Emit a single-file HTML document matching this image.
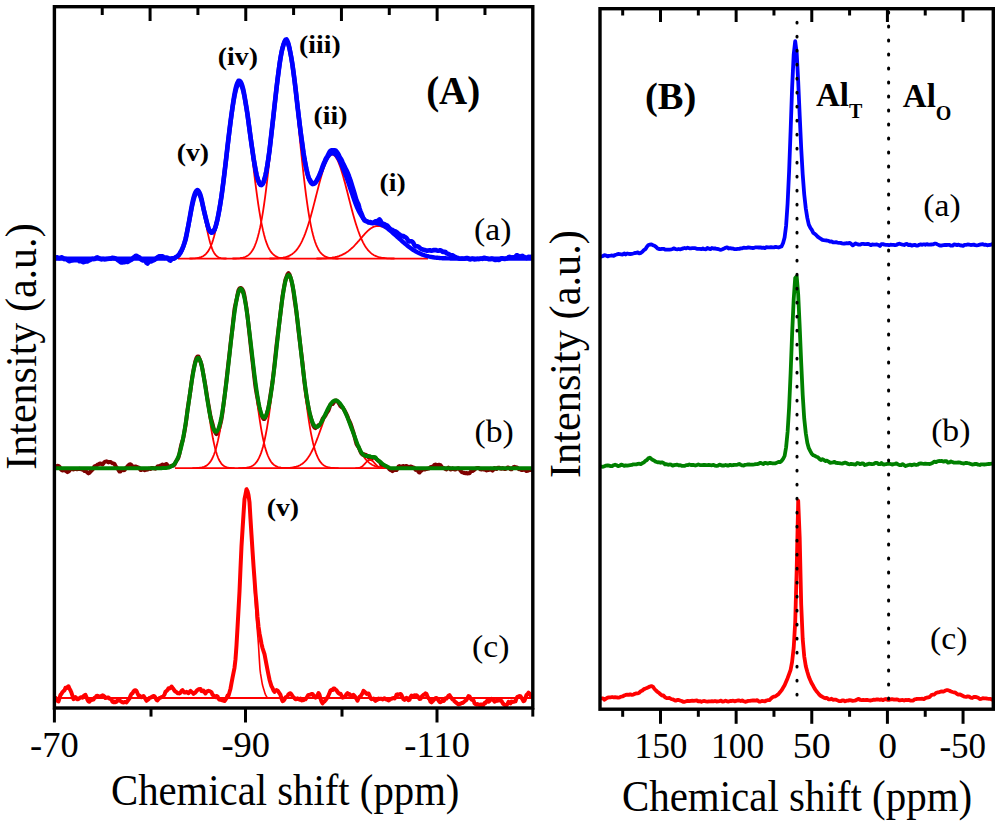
<!DOCTYPE html>
<html><head><meta charset="utf-8"><style>html,body{margin:0;padding:0;background:#fff;width:1000px;height:823px;overflow:hidden}svg{display:block}text{font-family:"Liberation Serif",serif}</style></head><body>
<svg width="1000" height="823" viewBox="0 0 1000 823">
<rect width="1000" height="823" fill="#fff"/>
<path d="M178.0,256.0 L179.0,255.0 L180.0,253.7 L181.0,252.0 L182.0,249.9 L183.0,247.4 L184.0,244.3 L185.0,240.8 L186.0,236.7 L187.0,232.3 L188.0,227.4 L189.0,222.2 L190.0,217.0 L191.0,211.8 L192.0,206.8 L193.0,202.4 L194.0,198.5 L195.0,195.6 L196.0,193.6 L197.0,192.7 L198.0,192.9 L199.0,194.2 L200.0,196.6 L201.0,200.0 L202.0,204.1 L203.0,208.8 L204.0,213.9 L205.0,219.1 L206.0,224.3 L207.0,229.4 L208.0,234.1 L209.0,238.4 L210.0,242.3 L211.0,245.6 L212.0,248.4 L213.0,250.8 L214.0,252.7 L215.0,254.2 L216.0,255.4 L217.0,256.3 L218.0,257.0 L219.0,257.5 L220.0,257.8 L221.0,258.1 L222.0,258.3 L223.0,258.4 L224.0,258.5 L225.0,258.5 L226.0,258.5" fill="none" stroke="#ff0000" stroke-width="1.8" stroke-linejoin="round" stroke-linecap="round" />
<path d="M190.0,258.5 L191.0,258.5 L192.0,258.5 L193.0,258.4 L194.0,258.4 L195.0,258.3 L196.0,258.2 L197.0,258.1 L198.0,257.9 L199.0,257.7 L200.0,257.4 L201.0,257.1 L202.0,256.7 L203.0,256.2 L204.0,255.6 L205.0,254.8 L206.0,253.8 L207.0,252.7 L208.0,251.4 L209.0,249.8 L210.0,247.9 L211.0,245.7 L212.0,243.1 L213.0,240.1 L214.0,236.8 L215.0,232.9 L216.0,228.7 L217.0,223.9 L218.0,218.6 L219.0,212.8 L220.0,206.5 L221.0,199.7 L222.0,192.5 L223.0,184.8 L224.0,176.9 L225.0,168.6 L226.0,160.1 L227.0,151.6 L228.0,143.1 L229.0,134.7 L230.0,126.5 L231.0,118.7 L232.0,111.4 L233.0,104.8 L234.0,98.9 L235.0,93.8 L236.0,89.7 L237.0,86.6 L238.0,84.6 L239.0,83.7 L240.0,83.9 L241.0,85.2 L242.0,87.7 L243.0,91.2 L244.0,95.7 L245.0,101.1 L246.0,107.4 L247.0,114.3 L248.0,121.8 L249.0,129.7 L250.0,138.0 L251.0,146.5 L252.0,155.0 L253.0,163.5 L254.0,171.9 L255.0,180.1 L256.0,187.9 L257.0,195.4 L258.0,202.5 L259.0,209.1 L260.0,215.2 L261.0,220.8 L262.0,225.8 L263.0,230.4 L264.0,234.5 L265.0,238.2 L266.0,241.4 L267.0,244.2 L268.0,246.6 L269.0,248.7 L270.0,250.4 L271.0,251.9 L272.0,253.2 L273.0,254.2 L274.0,255.1 L275.0,255.8 L276.0,256.4 L277.0,256.9 L278.0,257.3 L279.0,257.6 L280.0,257.8 L281.0,258.0 L282.0,258.1 L283.0,258.2 L284.0,258.3 L285.0,258.4 L286.0,258.5 L287.0,258.5 L288.0,258.5 L289.0,258.5" fill="none" stroke="#ff0000" stroke-width="1.8" stroke-linejoin="round" stroke-linecap="round" />
<path d="M233.0,258.5 L234.0,258.5 L235.0,258.5 L236.0,258.5 L237.0,258.4 L238.0,258.3 L239.0,258.3 L240.0,258.2 L241.0,258.0 L242.0,257.8 L243.0,257.6 L244.0,257.3 L245.0,257.0 L246.0,256.6 L247.0,256.0 L248.0,255.4 L249.0,254.6 L250.0,253.6 L251.0,252.5 L252.0,251.1 L253.0,249.5 L254.0,247.6 L255.0,245.3 L256.0,242.7 L257.0,239.7 L258.0,236.3 L259.0,232.4 L260.0,228.0 L261.0,223.1 L262.0,217.6 L263.0,211.6 L264.0,205.0 L265.0,197.8 L266.0,190.1 L267.0,181.8 L268.0,173.1 L269.0,164.0 L270.0,154.4 L271.0,144.6 L272.0,134.6 L273.0,124.6 L274.0,114.5 L275.0,104.7 L276.0,95.1 L277.0,85.9 L278.0,77.4 L279.0,69.5 L280.0,62.4 L281.0,56.3 L282.0,51.2 L283.0,47.2 L284.0,44.4 L285.0,42.9 L286.0,42.7 L287.0,43.7 L288.0,46.0 L289.0,49.4 L290.0,54.1 L291.0,59.8 L292.0,66.5 L293.0,74.1 L294.0,82.4 L295.0,91.4 L296.0,100.8 L297.0,110.6 L298.0,120.5 L299.0,130.6 L300.0,140.6 L301.0,150.5 L302.0,160.2 L303.0,169.5 L304.0,178.4 L305.0,186.8 L306.0,194.8 L307.0,202.2 L308.0,209.0 L309.0,215.3 L310.0,221.0 L311.0,226.1 L312.0,230.7 L313.0,234.8 L314.0,238.4 L315.0,241.6 L316.0,244.3 L317.0,246.7 L318.0,248.7 L319.0,250.5 L320.0,252.0 L321.0,253.2 L322.0,254.2 L323.0,255.1 L324.0,255.8 L325.0,256.4 L326.0,256.8 L327.0,257.2 L328.0,257.5 L329.0,257.8 L330.0,258.0 L331.0,258.1 L332.0,258.2 L333.0,258.3 L334.0,258.4 L335.0,258.4 L336.0,258.5 L337.0,258.5 L338.0,258.5" fill="none" stroke="#ff0000" stroke-width="1.8" stroke-linejoin="round" stroke-linecap="round" />
<path d="M270.0,258.5 L271.0,258.5 L272.0,258.5 L273.0,258.5 L274.0,258.5 L275.0,258.4 L276.0,258.4 L277.0,258.3 L278.0,258.3 L279.0,258.2 L280.0,258.1 L281.0,258.0 L282.0,257.8 L283.0,257.7 L284.0,257.5 L285.0,257.3 L286.0,257.0 L287.0,256.7 L288.0,256.3 L289.0,255.9 L290.0,255.4 L291.0,254.8 L292.0,254.2 L293.0,253.4 L294.0,252.6 L295.0,251.6 L296.0,250.6 L297.0,249.4 L298.0,248.0 L299.0,246.5 L300.0,244.9 L301.0,243.1 L302.0,241.1 L303.0,238.9 L304.0,236.6 L305.0,234.1 L306.0,231.4 L307.0,228.5 L308.0,225.5 L309.0,222.3 L310.0,218.9 L311.0,215.4 L312.0,211.7 L313.0,208.0 L314.0,204.1 L315.0,200.2 L316.0,196.3 L317.0,192.4 L318.0,188.5 L319.0,184.6 L320.0,180.8 L321.0,177.2 L322.0,173.7 L323.0,170.4 L324.0,167.4 L325.0,164.6 L326.0,162.1 L327.0,159.9 L328.0,158.1 L329.0,156.7 L330.0,155.6 L331.0,154.9 L332.0,154.6 L333.0,154.7 L334.0,155.3 L335.0,156.2 L336.0,157.5 L337.0,159.2 L338.0,161.2 L339.0,163.6 L340.0,166.3 L341.0,169.2 L342.0,172.4 L343.0,175.8 L344.0,179.4 L345.0,183.1 L346.0,186.9 L347.0,190.8 L348.0,194.7 L349.0,198.7 L350.0,202.6 L351.0,206.5 L352.0,210.2 L353.0,213.9 L354.0,217.5 L355.0,220.9 L356.0,224.2 L357.0,227.3 L358.0,230.3 L359.0,233.0 L360.0,235.6 L361.0,238.0 L362.0,240.2 L363.0,242.3 L364.0,244.2 L365.0,245.9 L366.0,247.4 L367.0,248.8 L368.0,250.1 L369.0,251.2 L370.0,252.2 L371.0,253.1 L372.0,253.9 L373.0,254.6 L374.0,255.2 L375.0,255.7 L376.0,256.1 L377.0,256.5 L378.0,256.9 L379.0,257.2 L380.0,257.4 L381.0,257.6 L382.0,257.8 L383.0,257.9 L384.0,258.0 L385.0,258.2 L386.0,258.2 L387.0,258.3 L388.0,258.4 L389.0,258.4 L390.0,258.4 L391.0,258.5 L392.0,258.5 L393.0,258.5 L394.0,258.5" fill="none" stroke="#ff0000" stroke-width="1.8" stroke-linejoin="round" stroke-linecap="round" />
<path d="M317.0,258.5 L318.0,258.5 L319.0,258.5 L320.0,258.5 L321.0,258.5 L322.0,258.4 L323.0,258.4 L324.0,258.4 L325.0,258.3 L326.0,258.3 L327.0,258.2 L328.0,258.1 L329.0,258.0 L330.0,257.9 L331.0,257.8 L332.0,257.7 L333.0,257.5 L334.0,257.4 L335.0,257.2 L336.0,256.9 L337.0,256.7 L338.0,256.4 L339.0,256.1 L340.0,255.7 L341.0,255.3 L342.0,254.9 L343.0,254.4 L344.0,253.9 L345.0,253.4 L346.0,252.7 L347.0,252.1 L348.0,251.4 L349.0,250.6 L350.0,249.8 L351.0,248.9 L352.0,248.0 L353.0,247.1 L354.0,246.1 L355.0,245.0 L356.0,243.9 L357.0,242.8 L358.0,241.7 L359.0,240.6 L360.0,239.4 L361.0,238.2 L362.0,237.1 L363.0,235.9 L364.0,234.8 L365.0,233.7 L366.0,232.7 L367.0,231.7 L368.0,230.7 L369.0,229.8 L370.0,229.0 L371.0,228.3 L372.0,227.7 L373.0,227.1 L374.0,226.7 L375.0,226.4 L376.0,226.1 L377.0,226.0 L378.0,226.0 L379.0,226.1 L380.0,226.2 L381.0,226.4 L382.0,226.7 L383.0,227.0 L384.0,227.4 L385.0,227.8 L386.0,228.3 L387.0,228.9 L388.0,229.5 L389.0,230.2 L390.0,230.9 L391.0,231.6 L392.0,232.4 L393.0,233.2 L394.0,234.0 L395.0,234.8 L396.0,235.7 L397.0,236.6 L398.0,237.5 L399.0,238.4 L400.0,239.3 L401.0,240.2 L402.0,241.1 L403.0,241.9 L404.0,242.8 L405.0,243.7 L406.0,244.5 L407.0,245.3 L408.0,246.1 L409.0,246.9 L410.0,247.7 L411.0,248.4 L412.0,249.1 L413.0,249.7 L414.0,250.4 L415.0,251.0 L416.0,251.5 L417.0,252.1 L418.0,252.6 L419.0,253.1 L420.0,253.6 L421.0,254.0 L422.0,254.4 L423.0,254.8 L424.0,255.1 L425.0,255.4 L426.0,255.7 L427.0,256.0 L428.0,256.3" fill="none" stroke="#ff0000" stroke-width="1.8" stroke-linejoin="round" stroke-linecap="round" />
<line x1="178" y1="258.6" x2="428" y2="258.6" stroke="#ff0000" stroke-width="1.8"/>
<path d="M55.5,258.1 L56.5,257.4 L57.5,257.4 L58.5,258.0 L59.5,258.1 L60.5,257.8 L61.5,257.3 L62.5,257.6 L63.5,258.3 L64.5,259.1 L65.5,258.9 L66.5,259.4 L67.5,260.0 L68.5,260.7 L69.5,261.3 L70.5,260.8 L71.5,260.4 L72.5,260.5 L73.5,260.3 L74.5,260.0 L75.5,260.3 L76.5,260.3 L77.5,259.7 L78.5,260.3 L79.5,261.2 L80.5,261.2 L81.5,261.3 L82.5,261.9 L83.5,262.2 L84.5,261.8 L85.5,261.5 L86.5,261.5 L87.5,261.4 L88.5,260.6 L89.5,260.1 L90.5,259.9 L91.5,259.3 L92.5,258.9 L93.5,259.1 L94.5,259.0 L95.5,258.3 L96.5,257.6 L97.5,257.4 L98.5,258.0 L99.5,258.6 L100.5,259.0 L101.5,259.4 L102.5,259.1 L103.5,259.1 L104.5,259.4 L105.5,259.2 L106.5,259.1 L107.5,258.9 L108.5,258.7 L109.5,258.6 L110.5,258.8 L111.5,258.1 L112.5,257.8 L113.5,258.1 L114.5,258.1 L115.5,258.5 L116.5,259.0 L117.5,259.9 L118.5,260.6 L119.5,261.2 L120.5,262.1 L121.5,262.5 L122.5,262.4 L123.5,262.3 L124.5,262.2 L125.5,261.7 L126.5,261.7 L127.5,261.9 L128.5,261.4 L129.5,260.8 L130.5,260.0 L131.5,259.9 L132.5,258.6 L133.5,257.5 L134.5,256.9 L135.5,256.0 L136.5,255.7 L137.5,256.7 L138.5,256.9 L139.5,257.5 L140.5,259.0 L141.5,259.8 L142.5,260.4 L143.5,260.3 L144.5,260.1 L145.5,261.0 L146.5,262.9 L147.5,263.5 L148.5,262.3 L149.5,261.4 L150.5,261.4 L151.5,261.4 L152.5,260.8 L153.5,260.3 L154.5,259.9 L155.5,259.2 L156.5,258.0 L157.5,257.2 L158.5,256.6 L159.5,256.2 L160.5,256.3 L161.5,256.3 L162.5,256.2 L163.5,257.2 L164.5,257.9 L165.5,257.5 L166.5,257.6 L167.5,257.8 L168.5,259.0 L169.5,260.2 L170.5,260.6 L171.5,259.4 L172.5,258.3 L173.5,258.8 L174.5,258.4 L175.5,257.3 L176.5,256.8 L177.5,256.2 L178.5,255.2 L179.5,253.7 L180.5,252.0 L181.5,250.3 L182.5,248.2 L183.5,245.8 L184.5,242.9 L185.5,239.9 L186.5,235.4 L187.5,229.8 L188.5,224.6 L189.5,218.9 L190.5,213.1 L191.5,207.4 L192.5,202.3 L193.5,197.9 L194.5,194.6 L195.5,192.2 L196.5,190.6 L197.5,190.0 L198.5,190.9 L199.5,192.6 L200.5,195.1 L201.5,198.8 L202.5,203.6 L203.5,208.7 L204.5,212.9 L205.5,216.9 L206.5,220.8 L207.5,224.8 L208.5,228.5 L209.5,230.6 L210.5,231.3 L211.5,231.8 L212.5,231.3 L213.5,230.5 L214.5,229.6 L215.5,227.0 L216.5,223.2 L217.5,218.9 L218.5,214.0 L219.5,208.5 L220.5,202.7 L221.5,196.4 L222.5,188.9 L223.5,181.1 L224.5,172.8 L225.5,164.3 L226.5,155.4 L227.5,146.5 L228.5,138.1 L229.5,129.8 L230.5,121.8 L231.5,114.2 L232.5,107.0 L233.5,100.3 L234.5,94.1 L235.5,89.1 L236.5,85.3 L237.5,82.7 L238.5,80.8 L239.5,80.7 L240.5,81.6 L241.5,83.5 L242.5,86.5 L243.5,90.4 L244.5,95.8 L245.5,101.8 L246.5,107.9 L247.5,114.0 L248.5,121.6 L249.5,129.5 L250.5,137.0 L251.5,144.2 L252.5,150.8 L253.5,157.9 L254.5,163.9 L255.5,169.5 L256.5,174.8 L257.5,178.4 L258.5,181.0 L259.5,183.3 L260.5,184.6 L261.5,184.6 L262.5,183.9 L263.5,182.1 L264.5,179.1 L265.5,175.1 L266.5,170.4 L267.5,164.3 L268.5,157.9 L269.5,150.6 L270.5,141.8 L271.5,132.6 L272.5,123.9 L273.5,115.3 L274.5,106.1 L275.5,97.2 L276.5,88.3 L277.5,80.0 L278.5,72.4 L279.5,64.7 L280.5,58.1 L281.5,52.6 L282.5,48.3 L283.5,44.8 L284.5,41.8 L285.5,39.7 L286.5,39.4 L287.5,41.2 L288.5,43.9 L289.5,48.3 L290.5,53.7 L291.5,58.8 L292.5,65.0 L293.5,72.4 L294.5,80.0 L295.5,88.3 L296.5,97.5 L297.5,106.4 L298.5,114.7 L299.5,123.0 L300.5,131.0 L301.5,138.2 L302.5,145.4 L303.5,152.8 L304.5,159.0 L305.5,164.3 L306.5,169.2 L307.5,173.5 L308.5,177.2 L309.5,179.4 L310.5,180.9 L311.5,182.7 L312.5,183.9 L313.5,183.6 L314.5,182.8 L315.5,182.1 L316.5,180.9 L317.5,178.9 L318.5,177.2 L319.5,174.8 L320.5,172.4 L321.5,169.8 L322.5,166.6 L323.5,164.1 L324.5,162.0 L325.5,159.4 L326.5,157.5 L327.5,156.1 L328.5,154.0 L329.5,152.0 L330.5,150.8 L331.5,150.3 L332.5,150.2 L333.5,150.2 L334.5,150.2 L335.5,150.4 L336.5,151.5 L337.5,152.8 L338.5,154.4 L339.5,156.7 L340.5,158.4 L341.5,159.8 L342.5,162.2 L343.5,164.4 L344.5,166.3 L345.5,168.4 L346.5,170.4 L347.5,172.5 L348.5,174.8 L349.5,178.0 L350.5,180.4 L351.5,183.7 L352.5,186.9 L353.5,190.2 L354.5,193.5 L355.5,196.9 L356.5,200.3 L357.5,202.4 L358.5,204.5 L359.5,208.4 L360.5,211.3 L361.5,213.7 L362.5,216.2 L363.5,218.9 L364.5,220.5 L365.5,221.0 L366.5,221.3 L367.5,221.6 L368.5,222.5 L369.5,222.4 L370.5,222.0 L371.5,223.1 L372.5,223.3 L373.5,222.6 L374.5,221.9 L375.5,221.3 L376.5,221.2 L377.5,221.2 L378.5,220.2 L379.5,219.4 L380.5,220.7 L381.5,222.9 L382.5,223.4 L383.5,223.8 L384.5,224.2 L385.5,224.8 L386.5,225.1 L387.5,225.9 L388.5,227.0 L389.5,228.1 L390.5,229.1 L391.5,229.6 L392.5,230.0 L393.5,230.8 L394.5,231.4 L395.5,231.4 L396.5,232.1 L397.5,232.9 L398.5,233.8 L399.5,234.5 L400.5,235.5 L401.5,236.4 L402.5,235.9 L403.5,236.1 L404.5,236.9 L405.5,237.2 L406.5,238.0 L407.5,239.5 L408.5,241.2 L409.5,241.4 L410.5,241.3 L411.5,241.3 L412.5,241.9 L413.5,243.2 L414.5,245.3 L415.5,246.4 L416.5,246.2 L417.5,246.3 L418.5,246.8 L419.5,247.6 L420.5,248.5 L421.5,249.3 L422.5,249.4 L423.5,249.8 L424.5,250.0 L425.5,250.3 L426.5,250.6 L427.5,250.6 L428.5,250.5 L429.5,250.3 L430.5,250.4 L431.5,250.8 L432.5,250.6 L433.5,250.0 L434.5,250.1 L435.5,250.0 L436.5,250.3 L437.5,250.8 L438.5,250.8 L439.5,250.4 L440.5,250.3 L441.5,250.8 L442.5,251.7 L443.5,252.0 L444.5,251.8 L445.5,252.0 L446.5,253.3 L447.5,253.6 L448.5,254.0 L449.5,254.5 L450.5,255.1 L451.5,255.3 L452.5,255.3 L453.5,255.9 L454.5,256.5 L455.5,257.0 L456.5,257.6 L457.5,257.7 L458.5,258.3 L459.5,258.8 L460.5,258.8 L461.5,258.6 L462.5,258.5 L463.5,258.7 L464.5,258.8 L465.5,258.2 L466.5,258.0 L467.5,258.1 L468.5,258.6 L469.5,259.2 L470.5,259.4 L471.5,259.1 L472.5,258.6 L473.5,258.9 L474.5,259.4 L475.5,259.2 L476.5,259.2 L477.5,258.9 L478.5,259.1 L479.5,259.0 L480.5,258.5 L481.5,258.6 L482.5,258.9 L483.5,258.0 L484.5,257.7 L485.5,258.4 L486.5,258.2 L487.5,258.7 L488.5,259.1 L489.5,259.2 L490.5,259.3 L491.5,258.5 L492.5,258.7 L493.5,259.4 L494.5,259.7 L495.5,260.0 L496.5,259.6 L497.5,259.4 L498.5,260.0 L499.5,259.7 L500.5,258.9 L501.5,258.3 L502.5,258.2 L503.5,258.8 L504.5,259.0 L505.5,258.6 L506.5,258.5 L507.5,258.1 L508.5,257.2 L509.5,256.8 L510.5,257.2 L511.5,257.4 L512.5,257.4 L513.5,257.8 L514.5,257.3 L515.5,256.6 L516.5,255.3 L517.5,255.4 L518.5,256.0 L519.5,256.6 L520.5,257.0 L521.5,256.1 L522.5,255.9 L523.5,256.7 L524.5,257.0 L525.5,257.5 L526.5,258.1 L527.5,257.2 L528.5,256.7 L529.5,257.0 L530.5,257.1 L531.5,256.7" fill="none" stroke="#0000ff" stroke-width="4.6" stroke-linejoin="round" stroke-linecap="round" />
<path d="M55.5,258.6 L56.5,258.6 L57.5,258.6 L58.5,258.6 L59.5,258.6 L60.5,258.6 L61.5,258.6 L62.5,258.6 L63.5,258.6 L64.5,258.6 L65.5,258.6 L66.5,258.6 L67.5,258.6 L68.5,258.6 L69.5,258.6 L70.5,258.6 L71.5,258.6 L72.5,258.6 L73.5,258.6 L74.5,258.6 L75.5,258.6 L76.5,258.6 L77.5,258.6 L78.5,258.6 L79.5,258.6 L80.5,258.6 L81.5,258.6 L82.5,258.6 L83.5,258.6 L84.5,258.6 L85.5,258.6 L86.5,258.6 L87.5,258.6 L88.5,258.6 L89.5,258.6 L90.5,258.6 L91.5,258.6 L92.5,258.6 L93.5,258.6 L94.5,258.6 L95.5,258.6 L96.5,258.6 L97.5,258.6 L98.5,258.6 L99.5,258.6 L100.5,258.6 L101.5,258.6 L102.5,258.6 L103.5,258.6 L104.5,258.6 L105.5,258.6 L106.5,258.6 L107.5,258.6 L108.5,258.6 L109.5,258.6 L110.5,258.6 L111.5,258.6 L112.5,258.6 L113.5,258.6 L114.5,258.6 L115.5,258.6 L116.5,258.6 L117.5,258.6 L118.5,258.6 L119.5,258.6 L120.5,258.6 L121.5,258.6 L122.5,258.6 L123.5,258.6 L124.5,258.6 L125.5,258.6 L126.5,258.6 L127.5,258.6 L128.5,258.6 L129.5,258.6 L130.5,258.6 L131.5,258.6 L132.5,258.6 L133.5,258.6 L134.5,258.6 L135.5,258.6 L136.5,258.6 L137.5,258.6 L138.5,258.6 L139.5,258.6 L140.5,258.6 L141.5,258.6 L142.5,258.6 L143.5,258.6 L144.5,258.6 L145.5,258.6 L146.5,258.6 L147.5,258.6 L148.5,258.6 L149.5,258.6 L150.5,258.6 L151.5,258.6 L152.5,258.6 L153.5,258.6 L154.5,258.6 L155.5,258.6 L156.5,258.6 L157.5,258.6 L158.5,258.6 L159.5,258.6 L160.5,258.6 L161.5,258.6 L162.5,258.6 L163.5,258.6 L164.5,258.6 L165.5,258.6 L166.5,258.6 L167.5,258.6 L168.5,258.5 L169.5,258.5 L170.5,258.5 L171.5,258.4 L172.5,258.3 L173.5,258.1 L174.5,257.9 L175.5,257.5 L176.5,257.0 L177.5,256.4 L178.5,255.5 L179.5,254.3 L180.5,252.9 L181.5,251.0 L182.5,248.7 L183.5,245.9 L184.5,242.6 L185.5,238.8 L186.5,234.5 L187.5,229.8 L188.5,224.8 L189.5,219.6 L190.5,214.3 L191.5,209.2 L192.5,204.4 L193.5,200.2 L194.5,196.7 L195.5,194.1 L196.5,192.5 L197.5,192.0 L198.5,192.6 L199.5,194.3 L200.5,196.9 L201.5,200.3 L202.5,204.2 L203.5,208.6 L204.5,213.1 L205.5,217.5 L206.5,221.6 L207.5,225.3 L208.5,228.3 L209.5,230.7 L210.5,232.2 L211.5,232.9 L212.5,232.7 L213.5,231.7 L214.5,229.8 L215.5,227.1 L216.5,223.6 L217.5,219.4 L218.5,214.4 L219.5,208.8 L220.5,202.5 L221.5,195.7 L222.5,188.4 L223.5,180.7 L224.5,172.6 L225.5,164.3 L226.5,155.8 L227.5,147.3 L228.5,138.8 L229.5,130.5 L230.5,122.5 L231.5,115.0 L232.5,108.0 L233.5,101.7 L234.5,96.1 L235.5,91.5 L236.5,87.8 L237.5,85.2 L238.5,83.7 L239.5,83.2 L240.5,83.9 L241.5,85.7 L242.5,88.5 L243.5,92.2 L244.5,96.9 L245.5,102.4 L246.5,108.5 L247.5,115.1 L248.5,122.1 L249.5,129.4 L250.5,136.7 L251.5,144.0 L252.5,151.0 L253.5,157.7 L254.5,163.9 L255.5,169.5 L256.5,174.4 L257.5,178.5 L258.5,181.6 L259.5,183.8 L260.5,185.0 L261.5,185.2 L262.5,184.2 L263.5,182.3 L264.5,179.3 L265.5,175.2 L266.5,170.2 L267.5,164.3 L268.5,157.6 L269.5,150.2 L270.5,142.1 L271.5,133.6 L272.5,124.6 L273.5,115.5 L274.5,106.3 L275.5,97.2 L276.5,88.3 L277.5,79.7 L278.5,71.8 L279.5,64.4 L280.5,57.9 L281.5,52.4 L282.5,47.8 L283.5,44.4 L284.5,42.1 L285.5,41.0 L286.5,41.1 L287.5,42.5 L288.5,45.0 L289.5,48.6 L290.5,53.3 L291.5,58.9 L292.5,65.4 L293.5,72.6 L294.5,80.3 L295.5,88.5 L296.5,97.0 L297.5,105.6 L298.5,114.3 L299.5,122.8 L300.5,131.0 L301.5,138.9 L302.5,146.3 L303.5,153.2 L304.5,159.4 L305.5,165.0 L306.5,169.9 L307.5,174.1 L308.5,177.5 L309.5,180.2 L310.5,182.1 L311.5,183.4 L312.5,184.0 L313.5,184.1 L314.5,183.6 L315.5,182.6 L316.5,181.2 L317.5,179.5 L318.5,177.5 L319.5,175.3 L320.5,172.9 L321.5,170.4 L322.5,168.0 L323.5,165.5 L324.5,163.2 L325.5,161.0 L326.5,159.1 L327.5,157.3 L328.5,155.9 L329.5,154.7 L330.5,153.9 L331.5,153.4 L332.5,153.3 L333.5,153.4 L334.5,153.8 L335.5,154.5 L336.5,155.5 L337.5,156.9 L338.5,158.5 L339.5,160.4 L340.5,162.5 L341.5,164.9 L342.5,167.4 L343.5,169.8 L344.5,172.3 L345.5,174.9 L346.5,177.6 L347.5,180.2 L348.5,183.0 L349.5,186.1 L350.5,189.1 L351.5,192.0 L352.5,194.7 L353.5,197.8 L354.5,200.7 L355.5,203.4 L356.5,206.0 L357.5,208.3 L358.5,210.5 L359.5,212.4 L360.5,214.2 L361.5,215.8 L362.5,217.3 L363.5,218.5 L364.5,219.7 L365.5,220.6 L366.5,221.1 L367.5,221.6 L368.5,222.0 L369.5,222.3 L370.5,222.6 L371.5,222.9 L372.5,222.9 L373.5,222.9 L374.5,222.9 L375.5,223.0 L376.5,223.1 L377.5,223.3 L378.5,223.5 L379.5,223.9 L380.5,224.3 L381.5,224.7 L382.5,225.2 L383.5,225.7 L384.5,226.3 L385.5,226.9 L386.5,227.6 L387.5,228.4 L388.5,229.2 L389.5,230.0 L390.5,230.8 L391.5,231.7 L392.5,232.6 L393.5,233.5 L394.5,234.4 L395.5,235.2 L396.5,236.1 L397.5,237.0 L398.5,237.9 L399.5,238.8 L400.5,239.7 L401.5,240.6 L402.5,241.5 L403.5,242.4 L404.5,243.2 L405.5,244.1 L406.5,244.9 L407.5,245.7 L408.5,246.5 L409.5,247.3 L410.5,248.0 L411.5,248.7 L412.5,249.4 L413.5,250.1 L414.5,250.7 L415.5,251.3 L416.5,251.8 L417.5,252.4 L418.5,252.9 L419.5,253.3 L420.5,253.8 L421.5,254.2 L422.5,254.6 L423.5,254.9 L424.5,255.3 L425.5,255.6 L426.5,255.9 L427.5,256.1 L428.5,256.4 L429.5,256.6 L430.5,256.8 L431.5,257.0 L432.5,257.2 L433.5,257.3 L434.5,257.5 L435.5,257.6 L436.5,257.7 L437.5,257.8 L438.5,257.9 L439.5,258.0 L440.5,258.1 L441.5,258.1 L442.5,258.2 L443.5,258.2 L444.5,258.3 L445.5,258.3 L446.5,258.4 L447.5,258.4 L448.5,258.4 L449.5,258.4 L450.5,258.5 L451.5,258.5 L452.5,258.5 L453.5,258.5 L454.5,258.5 L455.5,258.5 L456.5,258.5 L457.5,258.6 L458.5,258.6 L459.5,258.6 L460.5,258.6 L461.5,258.6 L462.5,258.6 L463.5,258.6 L464.5,258.6 L465.5,258.6 L466.5,258.6 L467.5,258.6 L468.5,258.6 L469.5,258.6 L470.5,258.6 L471.5,258.6 L472.5,258.6 L473.5,258.6 L474.5,258.6 L475.5,258.6 L476.5,258.6 L477.5,258.6 L478.5,258.6 L479.5,258.6 L480.5,258.6 L481.5,258.6 L482.5,258.6 L483.5,258.6 L484.5,258.6 L485.5,258.6 L486.5,258.6 L487.5,258.6 L488.5,258.6 L489.5,258.6 L490.5,258.6 L491.5,258.6 L492.5,258.6 L493.5,258.6 L494.5,258.6 L495.5,258.6 L496.5,258.6 L497.5,258.6 L498.5,258.6 L499.5,258.6 L500.5,258.6 L501.5,258.6 L502.5,258.6 L503.5,258.6 L504.5,258.6 L505.5,258.6 L506.5,258.6 L507.5,258.6 L508.5,258.6 L509.5,258.6 L510.5,258.6 L511.5,258.6 L512.5,258.6 L513.5,258.6 L514.5,258.6 L515.5,258.6 L516.5,258.6 L517.5,258.6 L518.5,258.6 L519.5,258.6 L520.5,258.6 L521.5,258.6 L522.5,258.6 L523.5,258.6 L524.5,258.6 L525.5,258.6 L526.5,258.6 L527.5,258.6 L528.5,258.6 L529.5,258.6 L530.5,258.6 L531.5,258.6" fill="none" stroke="#0000ff" stroke-width="4.4" stroke-linejoin="round" stroke-linecap="round" />
<path d="M55.5,467.1 L56.5,466.2 L57.5,465.8 L58.5,465.9 L59.5,466.7 L60.5,468.8 L61.5,470.0 L62.5,470.5 L63.5,470.2 L64.5,470.0 L65.5,470.8 L66.5,471.4 L67.5,472.1 L68.5,471.5 L69.5,470.7 L70.5,469.3 L71.5,468.9 L72.5,469.2 L73.5,469.5 L74.5,469.1 L75.5,468.9 L76.5,469.2 L77.5,469.2 L78.5,468.9 L79.5,468.8 L80.5,468.9 L81.5,469.3 L82.5,469.7 L83.5,470.0 L84.5,470.9 L85.5,470.9 L86.5,471.7 L87.5,472.7 L88.5,473.4 L89.5,472.8 L90.5,471.5 L91.5,470.5 L92.5,469.7 L93.5,468.1 L94.5,466.3 L95.5,466.0 L96.5,465.7 L97.5,464.7 L98.5,464.3 L99.5,463.7 L100.5,463.4 L101.5,464.1 L102.5,464.5 L103.5,463.2 L104.5,462.0 L105.5,461.6 L106.5,461.3 L107.5,461.6 L108.5,462.4 L109.5,462.0 L110.5,461.9 L111.5,462.6 L112.5,463.2 L113.5,463.4 L114.5,464.0 L115.5,465.9 L116.5,467.3 L117.5,468.3 L118.5,470.1 L119.5,471.5 L120.5,471.5 L121.5,469.9 L122.5,469.5 L123.5,470.3 L124.5,470.1 L125.5,468.6 L126.5,467.4 L127.5,466.4 L128.5,465.2 L129.5,464.4 L130.5,464.2 L131.5,465.0 L132.5,466.6 L133.5,467.2 L134.5,466.7 L135.5,466.4 L136.5,466.8 L137.5,467.2 L138.5,467.4 L139.5,468.3 L140.5,470.0 L141.5,469.9 L142.5,469.2 L143.5,469.5 L144.5,470.3 L145.5,469.7 L146.5,469.7 L147.5,469.5 L148.5,468.8 L149.5,468.7 L150.5,469.0 L151.5,468.1 L152.5,468.0 L153.5,468.3 L154.5,468.4 L155.5,468.7 L156.5,467.6 L157.5,466.5 L158.5,466.2 L159.5,465.9 L160.5,465.5 L161.5,465.1 L162.5,464.6 L163.5,465.1 L164.5,465.2 L165.5,464.3 L166.5,464.0 L167.5,465.4 L168.5,466.5 L169.5,467.1 L170.5,466.2 L171.5,465.7 L172.5,465.7 L173.5,465.6 L174.5,464.8 L175.5,462.4 L176.5,460.5 L177.5,459.4 L178.5,457.3 L179.5,453.4 L180.5,448.4 L181.5,444.0 L182.5,441.1 L183.5,436.9 L184.5,431.4 L185.5,425.7 L186.5,418.2 L187.5,409.8 L188.5,403.2 L189.5,397.0 L190.5,390.1 L191.5,382.4 L192.5,375.5 L193.5,370.0 L194.5,365.2 L195.5,360.8 L196.5,357.8 L197.5,356.4 L198.5,356.4 L199.5,358.9 L200.5,361.5 L201.5,364.5 L202.5,369.3 L203.5,375.2 L204.5,380.6 L205.5,386.3 L206.5,393.0 L207.5,399.3 L208.5,405.0 L209.5,410.9 L210.5,416.6 L211.5,420.4 L212.5,423.8 L213.5,428.0 L214.5,430.8 L215.5,432.9 L216.5,434.1 L217.5,433.5 L218.5,431.0 L219.5,427.4 L220.5,423.5 L221.5,419.0 L222.5,412.5 L223.5,404.7 L224.5,396.7 L225.5,388.6 L226.5,380.0 L227.5,371.0 L228.5,362.3 L229.5,353.8 L230.5,344.4 L231.5,335.7 L232.5,327.6 L233.5,318.2 L234.5,309.2 L235.5,304.1 L236.5,300.0 L237.5,294.7 L238.5,290.3 L239.5,288.5 L240.5,287.9 L241.5,288.3 L242.5,289.5 L243.5,291.6 L244.5,296.0 L245.5,302.0 L246.5,308.3 L247.5,316.1 L248.5,325.2 L249.5,334.3 L250.5,343.6 L251.5,352.8 L252.5,361.1 L253.5,369.9 L254.5,378.8 L255.5,386.9 L256.5,393.0 L257.5,398.1 L258.5,404.1 L259.5,408.8 L260.5,412.6 L261.5,415.2 L262.5,417.3 L263.5,419.0 L264.5,418.9 L265.5,417.3 L266.5,414.9 L267.5,411.7 L268.5,407.2 L269.5,401.3 L270.5,394.8 L271.5,388.6 L272.5,381.9 L273.5,373.6 L274.5,364.7 L275.5,355.2 L276.5,345.6 L277.5,337.4 L278.5,329.2 L279.5,321.1 L280.5,312.9 L281.5,304.6 L282.5,296.4 L283.5,290.2 L284.5,284.7 L285.5,279.5 L286.5,276.9 L287.5,274.3 L288.5,273.1 L289.5,274.5 L290.5,277.4 L291.5,281.1 L292.5,285.7 L293.5,291.6 L294.5,299.2 L295.5,305.8 L296.5,312.9 L297.5,321.6 L298.5,330.6 L299.5,338.8 L300.5,347.1 L301.5,354.9 L302.5,363.3 L303.5,373.1 L304.5,382.6 L305.5,390.1 L306.5,396.9 L307.5,402.5 L308.5,407.6 L309.5,412.7 L310.5,416.3 L311.5,419.7 L312.5,423.3 L313.5,426.1 L314.5,427.5 L315.5,428.2 L316.5,427.2 L317.5,426.3 L318.5,425.2 L319.5,424.9 L320.5,424.5 L321.5,421.8 L322.5,419.1 L323.5,417.4 L324.5,417.0 L325.5,415.5 L326.5,413.3 L327.5,411.8 L328.5,410.3 L329.5,407.5 L330.5,404.4 L331.5,404.2 L332.5,404.1 L333.5,402.9 L334.5,401.5 L335.5,400.5 L336.5,400.5 L337.5,401.4 L338.5,402.8 L339.5,404.3 L340.5,406.2 L341.5,407.2 L342.5,407.2 L343.5,408.8 L344.5,410.3 L345.5,412.3 L346.5,414.2 L347.5,416.5 L348.5,419.3 L349.5,421.3 L350.5,423.5 L351.5,426.3 L352.5,429.5 L353.5,432.7 L354.5,436.2 L355.5,440.2 L356.5,444.1 L357.5,445.8 L358.5,446.9 L359.5,449.3 L360.5,451.6 L361.5,453.7 L362.5,454.7 L363.5,454.2 L364.5,454.5 L365.5,454.7 L366.5,455.3 L367.5,456.4 L368.5,457.4 L369.5,457.5 L370.5,458.9 L371.5,459.2 L372.5,457.5 L373.5,457.0 L374.5,457.4 L375.5,458.0 L376.5,459.2 L377.5,460.0 L378.5,460.9 L379.5,461.6 L380.5,463.0 L381.5,465.2 L382.5,465.5 L383.5,466.3 L384.5,466.8 L385.5,465.8 L386.5,467.1 L387.5,467.3 L388.5,467.9 L389.5,469.4 L390.5,470.0 L391.5,470.3 L392.5,471.1 L393.5,470.4 L394.5,469.7 L395.5,470.1 L396.5,470.1 L397.5,468.6 L398.5,466.6 L399.5,466.1 L400.5,466.8 L401.5,466.9 L402.5,466.2 L403.5,466.0 L404.5,466.5 L405.5,466.4 L406.5,465.9 L407.5,466.5 L408.5,467.8 L409.5,467.0 L410.5,466.5 L411.5,466.7 L412.5,467.3 L413.5,467.4 L414.5,468.1 L415.5,469.8 L416.5,469.0 L417.5,469.6 L418.5,471.8 L419.5,472.5 L420.5,471.2 L421.5,470.5 L422.5,469.6 L423.5,469.6 L424.5,469.6 L425.5,469.1 L426.5,469.0 L427.5,468.8 L428.5,468.6 L429.5,468.2 L430.5,467.2 L431.5,466.8 L432.5,467.1 L433.5,466.1 L434.5,464.9 L435.5,464.5 L436.5,465.1 L437.5,465.1 L438.5,464.8 L439.5,464.8 L440.5,465.1 L441.5,466.6 L442.5,467.7 L443.5,468.0 L444.5,468.3 L445.5,469.0 L446.5,469.5 L447.5,468.4 L448.5,467.6 L449.5,468.2 L450.5,469.5 L451.5,469.3 L452.5,468.4 L453.5,469.1 L454.5,469.5 L455.5,469.5 L456.5,469.0 L457.5,468.4 L458.5,468.2 L459.5,469.1 L460.5,470.6 L461.5,471.9 L462.5,472.3 L463.5,472.6 L464.5,473.1 L465.5,473.3 L466.5,472.9 L467.5,473.5 L468.5,473.3 L469.5,473.2 L470.5,471.9 L471.5,470.9 L472.5,471.1 L473.5,470.4 L474.5,469.6 L475.5,468.7 L476.5,468.1 L477.5,467.9 L478.5,468.0 L479.5,468.6 L480.5,469.3 L481.5,469.5 L482.5,469.0 L483.5,469.5 L484.5,469.5 L485.5,470.0 L486.5,470.4 L487.5,469.9 L488.5,470.0 L489.5,469.3 L490.5,468.9 L491.5,470.0 L492.5,470.6 L493.5,469.6 L494.5,468.0 L495.5,468.7 L496.5,469.0 L497.5,468.0 L498.5,467.7 L499.5,467.8 L500.5,468.5 L501.5,468.8 L502.5,468.1 L503.5,468.4 L504.5,469.0 L505.5,469.0 L506.5,468.5 L507.5,467.6 L508.5,467.5 L509.5,468.3 L510.5,469.2 L511.5,469.3 L512.5,468.2 L513.5,467.2 L514.5,466.8 L515.5,467.1 L516.5,467.4 L517.5,467.9 L518.5,468.9 L519.5,469.3 L520.5,469.2 L521.5,470.1 L522.5,470.0 L523.5,469.7 L524.5,469.8 L525.5,470.3 L526.5,471.0 L527.5,470.8 L528.5,470.4 L529.5,469.9 L530.5,469.8 L531.5,470.1" fill="none" stroke="#800000" stroke-width="4" stroke-linejoin="round" stroke-linecap="round" />
<path d="M175.0,463.1 L176.0,461.6 L177.0,459.8 L178.0,457.5 L179.0,454.8 L180.0,451.6 L181.0,447.9 L182.0,443.6 L183.0,438.8 L184.0,433.4 L185.0,427.5 L186.0,421.2 L187.0,414.5 L188.0,407.6 L189.0,400.6 L190.0,393.6 L191.0,386.8 L192.0,380.5 L193.0,374.7 L194.0,369.7 L195.0,365.7 L196.0,362.7 L197.0,360.8 L198.0,360.2 L199.0,360.8 L200.0,362.7 L201.0,365.7 L202.0,369.7 L203.0,374.7 L204.0,380.5 L205.0,386.8 L206.0,393.6 L207.0,400.6 L208.0,407.6 L209.0,414.5 L210.0,421.2 L211.0,427.5 L212.0,433.4 L213.0,438.8 L214.0,443.6 L215.0,447.9 L216.0,451.6 L217.0,454.8 L218.0,457.5 L219.0,459.8 L220.0,461.6 L221.0,463.1 L222.0,464.3 L223.0,465.3 L224.0,466.0 L225.0,466.6 L226.0,467.0 L227.0,467.4 L228.0,467.6 L229.0,467.8 L230.0,467.9 L231.0,468.0 L232.0,468.1 L233.0,468.1 L234.0,468.1" fill="none" stroke="#ff0000" stroke-width="1.8" stroke-linejoin="round" stroke-linecap="round" />
<path d="M193.0,468.1 L194.0,468.1 L195.0,468.1 L196.0,468.1 L197.0,468.0 L198.0,467.9 L199.0,467.9 L200.0,467.7 L201.0,467.6 L202.0,467.4 L203.0,467.1 L204.0,466.8 L205.0,466.4 L206.0,465.9 L207.0,465.2 L208.0,464.4 L209.0,463.4 L210.0,462.2 L211.0,460.7 L212.0,459.0 L213.0,456.9 L214.0,454.5 L215.0,451.7 L216.0,448.4 L217.0,444.6 L218.0,440.4 L219.0,435.6 L220.0,430.2 L221.0,424.3 L222.0,417.8 L223.0,410.7 L224.0,403.2 L225.0,395.2 L226.0,386.7 L227.0,378.0 L228.0,369.0 L229.0,359.9 L230.0,350.9 L231.0,341.9 L232.0,333.3 L233.0,325.1 L234.0,317.6 L235.0,310.7 L236.0,304.7 L237.0,299.7 L238.0,295.8 L239.0,293.0 L240.0,291.5 L241.0,291.3 L242.0,292.3 L243.0,294.5 L244.0,298.0 L245.0,302.6 L246.0,308.2 L247.0,314.7 L248.0,322.0 L249.0,330.0 L250.0,338.5 L251.0,347.3 L252.0,356.3 L253.0,365.4 L254.0,374.4 L255.0,383.3 L256.0,391.8 L257.0,400.0 L258.0,407.8 L259.0,415.0 L260.0,421.7 L261.0,427.9 L262.0,433.5 L263.0,438.5 L264.0,443.0 L265.0,447.0 L266.0,450.4 L267.0,453.4 L268.0,456.0 L269.0,458.2 L270.0,460.1 L271.0,461.7 L272.0,463.0 L273.0,464.0 L274.0,464.9 L275.0,465.6 L276.0,466.2 L277.0,466.6 L278.0,467.0 L279.0,467.3 L280.0,467.5 L281.0,467.7 L282.0,467.8 L283.0,467.9 L284.0,468.0 L285.0,468.0 L286.0,468.1 L287.0,468.1 L288.0,468.1" fill="none" stroke="#ff0000" stroke-width="1.8" stroke-linejoin="round" stroke-linecap="round" />
<path d="M239.0,468.1 L240.0,468.1 L241.0,468.1 L242.0,468.1 L243.0,468.0 L244.0,468.0 L245.0,467.9 L246.0,467.8 L247.0,467.6 L248.0,467.4 L249.0,467.2 L250.0,466.9 L251.0,466.5 L252.0,466.0 L253.0,465.4 L254.0,464.7 L255.0,463.8 L256.0,462.7 L257.0,461.4 L258.0,459.8 L259.0,457.9 L260.0,455.7 L261.0,453.1 L262.0,450.1 L263.0,446.7 L264.0,442.8 L265.0,438.3 L266.0,433.3 L267.0,427.8 L268.0,421.7 L269.0,415.0 L270.0,407.7 L271.0,399.9 L272.0,391.7 L273.0,383.0 L274.0,373.9 L275.0,364.7 L276.0,355.2 L277.0,345.7 L278.0,336.3 L279.0,327.2 L280.0,318.4 L281.0,310.1 L282.0,302.5 L283.0,295.7 L284.0,289.8 L285.0,284.9 L286.0,281.2 L287.0,278.6 L288.0,277.4 L289.0,277.4 L290.0,278.6 L291.0,281.2 L292.0,284.9 L293.0,289.8 L294.0,295.7 L295.0,302.5 L296.0,310.1 L297.0,318.4 L298.0,327.2 L299.0,336.3 L300.0,345.7 L301.0,355.2 L302.0,364.7 L303.0,373.9 L304.0,383.0 L305.0,391.7 L306.0,399.9 L307.0,407.7 L308.0,415.0 L309.0,421.7 L310.0,427.8 L311.0,433.3 L312.0,438.3 L313.0,442.8 L314.0,446.7 L315.0,450.1 L316.0,453.1 L317.0,455.7 L318.0,457.9 L319.0,459.8 L320.0,461.4 L321.0,462.7 L322.0,463.8 L323.0,464.7 L324.0,465.4 L325.0,466.0 L326.0,466.5 L327.0,466.9 L328.0,467.2 L329.0,467.4 L330.0,467.6 L331.0,467.8 L332.0,467.9 L333.0,468.0 L334.0,468.0 L335.0,468.1 L336.0,468.1 L337.0,468.1 L338.0,468.1" fill="none" stroke="#ff0000" stroke-width="1.8" stroke-linejoin="round" stroke-linecap="round" />
<path d="M282.0,468.1 L283.0,468.1 L284.0,468.1 L285.0,468.1 L286.0,468.0 L287.0,468.0 L288.0,467.9 L289.0,467.9 L290.0,467.8 L291.0,467.7 L292.0,467.6 L293.0,467.4 L294.0,467.2 L295.0,467.0 L296.0,466.8 L297.0,466.4 L298.0,466.1 L299.0,465.7 L300.0,465.2 L301.0,464.6 L302.0,464.0 L303.0,463.2 L304.0,462.4 L305.0,461.4 L306.0,460.3 L307.0,459.1 L308.0,457.8 L309.0,456.3 L310.0,454.7 L311.0,452.9 L312.0,451.0 L313.0,449.0 L314.0,446.8 L315.0,444.5 L316.0,442.0 L317.0,439.4 L318.0,436.8 L319.0,434.0 L320.0,431.2 L321.0,428.4 L322.0,425.6 L323.0,422.8 L324.0,420.0 L325.0,417.3 L326.0,414.7 L327.0,412.3 L328.0,410.0 L329.0,408.0 L330.0,406.1 L331.0,404.6 L332.0,403.3 L333.0,402.3 L334.0,401.6 L335.0,401.3 L336.0,401.2 L337.0,401.5 L338.0,402.1 L339.0,402.9 L340.0,404.0 L341.0,405.4 L342.0,407.0 L343.0,408.9 L344.0,410.9 L345.0,413.1 L346.0,415.5 L347.0,418.0 L348.0,420.6 L349.0,423.2 L350.0,425.9 L351.0,428.6 L352.0,431.3 L353.0,434.0 L354.0,436.6 L355.0,439.2 L356.0,441.6 L357.0,444.0 L358.0,446.2 L359.0,448.4 L360.0,450.4 L361.0,452.2 L362.0,454.0 L363.0,455.6 L364.0,457.0 L365.0,458.4 L366.0,459.6 L367.0,460.7 L368.0,461.7 L369.0,462.6 L370.0,463.4 L371.0,464.1 L372.0,464.7 L373.0,465.2 L374.0,465.7 L375.0,466.1 L376.0,466.4 L377.0,466.7 L378.0,467.0 L379.0,467.2 L380.0,467.4 L381.0,467.5 L382.0,467.6 L383.0,467.7 L384.0,467.8 L385.0,467.9 L386.0,468.0" fill="none" stroke="#ff0000" stroke-width="1.8" stroke-linejoin="round" stroke-linecap="round" />
<path d="M356.0,468.1 L357.0,468.1 L358.0,468.0 L359.0,467.8 L360.0,467.5 L361.0,467.0 L362.0,466.4 L363.0,465.7 L364.0,464.7 L365.0,463.6 L366.0,462.5 L367.0,461.4 L368.0,460.5 L369.0,459.9 L370.0,459.7 L371.0,459.9 L372.0,460.5 L373.0,461.4 L374.0,462.5 L375.0,463.6 L376.0,464.7 L377.0,465.7 L378.0,466.4 L379.0,467.0 L380.0,467.5 L381.0,467.8 L382.0,468.0 L383.0,468.1 L384.0,468.1" fill="none" stroke="#ff0000" stroke-width="1.8" stroke-linejoin="round" stroke-linecap="round" />
<line x1="175" y1="468.2" x2="386" y2="468.2" stroke="#ff0000" stroke-width="1.8"/>
<path d="M55.5,468.2 L56.5,468.2 L57.5,468.2 L58.5,468.2 L59.5,468.2 L60.5,468.2 L61.5,468.2 L62.5,468.2 L63.5,468.2 L64.5,468.2 L65.5,468.2 L66.5,468.2 L67.5,468.2 L68.5,468.2 L69.5,468.2 L70.5,468.2 L71.5,468.2 L72.5,468.2 L73.5,468.2 L74.5,468.2 L75.5,468.2 L76.5,468.2 L77.5,468.2 L78.5,468.2 L79.5,468.2 L80.5,468.2 L81.5,468.2 L82.5,468.2 L83.5,468.2 L84.5,468.2 L85.5,468.2 L86.5,468.2 L87.5,468.2 L88.5,468.2 L89.5,468.2 L90.5,468.2 L91.5,468.2 L92.5,468.2 L93.5,468.2 L94.5,468.2 L95.5,468.2 L96.5,468.2 L97.5,468.2 L98.5,468.2 L99.5,468.2 L100.5,468.2 L101.5,468.2 L102.5,468.2 L103.5,468.2 L104.5,468.2 L105.5,468.2 L106.5,468.2 L107.5,468.2 L108.5,468.2 L109.5,468.2 L110.5,468.2 L111.5,468.2 L112.5,468.2 L113.5,468.2 L114.5,468.2 L115.5,468.2 L116.5,468.2 L117.5,468.2 L118.5,468.2 L119.5,468.2 L120.5,468.2 L121.5,468.2 L122.5,468.2 L123.5,468.2 L124.5,468.2 L125.5,468.2 L126.5,468.2 L127.5,468.2 L128.5,468.2 L129.5,468.2 L130.5,468.2 L131.5,468.2 L132.5,468.2 L133.5,468.2 L134.5,468.2 L135.5,468.2 L136.5,468.2 L137.5,468.2 L138.5,468.2 L139.5,468.2 L140.5,468.2 L141.5,468.2 L142.5,468.2 L143.5,468.2 L144.5,468.2 L145.5,468.2 L146.5,468.2 L147.5,468.2 L148.5,468.2 L149.5,468.2 L150.5,468.2 L151.5,468.2 L152.5,468.2 L153.5,468.2 L154.5,468.2 L155.5,468.2 L156.5,468.2 L157.5,468.2 L158.5,468.2 L159.5,468.2 L160.5,468.2 L161.5,468.2 L162.5,468.1 L163.5,468.1 L164.5,468.0 L165.5,468.0 L166.5,467.9 L167.5,467.7 L168.5,467.5 L169.5,467.2 L170.5,466.8 L171.5,466.3 L172.5,465.7 L173.5,464.8 L174.5,463.8 L175.5,462.4 L176.5,460.7 L177.5,458.7 L178.5,456.2 L179.5,453.3 L180.5,449.8 L181.5,445.8 L182.5,441.3 L183.5,436.2 L184.5,430.5 L185.5,424.4 L186.5,417.9 L187.5,411.0 L188.5,404.0 L189.5,396.8 L190.5,389.8 L191.5,383.0 L192.5,376.7 L193.5,370.9 L194.5,366.0 L195.5,362.1 L196.5,359.3 L197.5,357.9 L198.5,357.8 L199.5,359.0 L200.5,361.5 L201.5,365.2 L202.5,369.9 L203.5,375.3 L204.5,381.3 L205.5,387.7 L206.5,394.2 L207.5,400.6 L208.5,406.7 L209.5,412.5 L210.5,417.7 L211.5,422.2 L212.5,426.0 L213.5,428.8 L214.5,430.8 L215.5,431.7 L216.5,431.7 L217.5,430.6 L218.5,428.5 L219.5,425.5 L220.5,421.5 L221.5,416.7 L222.5,411.0 L223.5,404.5 L224.5,397.3 L225.5,389.6 L226.5,381.4 L227.5,372.7 L228.5,363.8 L229.5,354.8 L230.5,345.8 L231.5,336.9 L232.5,328.4 L233.5,320.3 L234.5,312.8 L235.5,306.0 L236.5,300.2 L237.5,295.5 L238.5,291.9 L239.5,289.6 L240.5,288.6 L241.5,289.0 L242.5,290.8 L243.5,293.8 L244.5,298.0 L245.5,303.3 L246.5,309.6 L247.5,316.6 L248.5,324.3 L249.5,332.5 L250.5,341.0 L251.5,349.6 L252.5,358.2 L253.5,366.7 L254.5,374.9 L255.5,382.6 L256.5,389.8 L257.5,396.4 L258.5,402.2 L259.5,407.1 L260.5,411.2 L261.5,414.3 L262.5,416.4 L263.5,417.4 L264.5,417.5 L265.5,416.5 L266.5,414.4 L267.5,411.4 L268.5,407.3 L269.5,402.4 L270.5,396.6 L271.5,390.0 L272.5,382.7 L273.5,374.8 L274.5,366.4 L275.5,357.6 L276.5,348.5 L277.5,339.4 L278.5,330.3 L279.5,321.5 L280.5,312.9 L281.5,304.9 L282.5,297.6 L283.5,291.0 L284.5,285.4 L285.5,280.9 L286.5,277.6 L287.5,275.6 L288.5,274.9 L289.5,275.5 L290.5,277.4 L291.5,280.6 L292.5,285.0 L293.5,290.5 L294.5,296.9 L295.5,304.1 L296.5,312.0 L297.5,320.4 L298.5,329.1 L299.5,338.1 L300.5,347.1 L301.5,356.0 L302.5,364.7 L303.5,373.1 L304.5,381.1 L305.5,388.5 L306.5,395.4 L307.5,401.7 L308.5,407.3 L309.5,412.1 L310.5,416.3 L311.5,419.7 L312.5,422.4 L313.5,424.5 L314.5,425.9 L315.5,426.7 L316.5,427.0 L317.5,426.8 L318.5,426.1 L319.5,425.1 L320.5,423.7 L321.5,422.0 L322.5,420.2 L323.5,418.2 L324.5,416.1 L325.5,413.9 L326.5,411.8 L327.5,409.7 L328.5,407.8 L329.5,406.0 L330.5,404.4 L331.5,403.0 L332.5,401.9 L333.5,401.1 L334.5,400.6 L335.5,400.5 L336.5,400.6 L337.5,401.1 L338.5,401.9 L339.5,402.9 L340.5,404.1 L341.5,405.5 L342.5,407.0 L343.5,408.8 L344.5,410.8 L345.5,412.9 L346.5,415.2 L347.5,417.5 L348.5,420.1 L349.5,422.8 L350.5,425.5 L351.5,428.2 L352.5,430.9 L353.5,433.5 L354.5,436.1 L355.5,438.9 L356.5,441.6 L357.5,444.3 L358.5,446.7 L359.5,448.9 L360.5,450.9 L361.5,452.6 L362.5,453.9 L363.5,454.8 L364.5,455.5 L365.5,456.0 L366.5,456.1 L367.5,455.9 L368.5,455.9 L369.5,456.1 L370.5,456.6 L371.5,456.9 L372.5,456.9 L373.5,457.0 L374.5,457.2 L375.5,457.5 L376.5,458.8 L377.5,459.8 L378.5,460.7 L379.5,461.3 L380.5,462.1 L381.5,463.0 L382.5,463.9 L383.5,464.6 L384.5,465.4 L385.5,465.9 L386.5,466.4 L387.5,466.9 L388.5,467.3 L389.5,467.8 L390.5,468.2 L391.5,468.2 L392.5,468.2 L393.5,468.2 L394.5,468.2 L395.5,468.2 L396.5,468.2 L397.5,468.2 L398.5,468.2 L399.5,468.2 L400.5,468.2 L401.5,468.2 L402.5,468.2 L403.5,468.2 L404.5,468.2 L405.5,468.2 L406.5,468.2 L407.5,468.2 L408.5,468.2 L409.5,468.2 L410.5,468.2 L411.5,468.2 L412.5,468.2 L413.5,468.2 L414.5,468.2 L415.5,468.2 L416.5,468.2 L417.5,468.2 L418.5,468.2 L419.5,468.2 L420.5,468.2 L421.5,468.2 L422.5,468.2 L423.5,468.2 L424.5,468.2 L425.5,468.2 L426.5,468.2 L427.5,468.2 L428.5,468.2 L429.5,468.2 L430.5,468.2 L431.5,468.2 L432.5,468.2 L433.5,468.2 L434.5,468.2 L435.5,468.2 L436.5,468.2 L437.5,468.2 L438.5,468.2 L439.5,468.2 L440.5,468.2 L441.5,468.2 L442.5,468.2 L443.5,468.2 L444.5,468.2 L445.5,468.2 L446.5,468.2 L447.5,468.2 L448.5,468.2 L449.5,468.2 L450.5,468.2 L451.5,468.2 L452.5,468.2 L453.5,468.2 L454.5,468.2 L455.5,468.2 L456.5,468.2 L457.5,468.2 L458.5,468.2 L459.5,468.2 L460.5,468.2 L461.5,468.2 L462.5,468.2 L463.5,468.2 L464.5,468.2 L465.5,468.2 L466.5,468.2 L467.5,468.2 L468.5,468.2 L469.5,468.2 L470.5,468.2 L471.5,468.2 L472.5,468.2 L473.5,468.2 L474.5,468.2 L475.5,468.2 L476.5,468.2 L477.5,468.2 L478.5,468.2 L479.5,468.2 L480.5,468.2 L481.5,468.2 L482.5,468.2 L483.5,468.2 L484.5,468.2 L485.5,468.2 L486.5,468.2 L487.5,468.2 L488.5,468.2 L489.5,468.2 L490.5,468.2 L491.5,468.2 L492.5,468.2 L493.5,468.2 L494.5,468.2 L495.5,468.2 L496.5,468.2 L497.5,468.2 L498.5,468.2 L499.5,468.2 L500.5,468.2 L501.5,468.2 L502.5,468.2 L503.5,468.2 L504.5,468.2 L505.5,468.2 L506.5,468.2 L507.5,468.2 L508.5,468.2 L509.5,468.2 L510.5,468.2 L511.5,468.2 L512.5,468.2 L513.5,468.2 L514.5,468.2 L515.5,468.2 L516.5,468.2 L517.5,468.2 L518.5,468.2 L519.5,468.2 L520.5,468.2 L521.5,468.2 L522.5,468.2 L523.5,468.2 L524.5,468.2 L525.5,468.2 L526.5,468.2 L527.5,468.2 L528.5,468.2 L529.5,468.2 L530.5,468.2 L531.5,468.2" fill="none" stroke="#008000" stroke-width="4" stroke-linejoin="round" stroke-linecap="round" />
<line x1="56" y1="698.0" x2="531" y2="698.0" stroke="#ff0000" stroke-width="1.8"/>
<path d="M222.0,698.0 L222.5,698.0 L223.0,698.0 L223.5,698.0 L224.0,698.0 L224.5,698.0 L225.0,698.0 L225.5,698.0 L226.0,698.0 L226.5,697.7 L227.0,696.8 L227.5,696.0 L228.0,695.1 L228.5,694.0 L229.0,692.2 L229.5,690.4 L230.0,688.5 L230.5,686.6 L231.0,684.1 L231.5,681.7 L232.0,679.3 L232.5,676.9 L233.0,673.9 L233.5,670.9 L234.0,667.9 L234.5,664.9 L235.0,661.9 L235.5,656.5 L236.0,650.5 L236.5,644.5 L237.0,637.0 L237.5,628.5 L238.0,620.0 L238.5,610.5 L239.0,601.0 L239.5,591.0 L240.0,578.7 L240.5,566.5 L241.0,555.4 L241.5,544.3 L242.0,535.3 L242.5,527.6 L243.0,519.9 L243.5,512.2 L244.0,504.5 L244.5,498.8 L245.0,496.3 L245.5,493.8 L246.0,491.2 L246.5,488.7 L247.0,488.2 L247.5,490.7 L248.0,493.3 L248.5,495.8 L249.0,498.3 L249.5,502.9 L250.0,510.6 L250.5,518.3 L251.0,526.0 L251.5,533.7 L252.0,541.8 L252.5,551.3 L253.0,560.8 L253.5,570.3 L254.0,580.0 L254.5,589.6 L255.0,598.1 L255.5,605.9 L256.0,613.8 L256.5,621.2 L257.0,627.0 L257.5,632.8 L258.0,638.6 L258.5,645.5 L259.0,653.9 L259.5,661.9 L260.0,669.5 L260.5,673.4 L261.0,676.4 L261.5,679.4 L262.0,682.3 L262.5,685.1 L263.0,686.7 L263.5,688.4 L264.0,690.1 L264.5,691.8 L265.0,693.4 L265.5,694.6 L266.0,695.5 L266.5,696.5 L267.0,697.4 L267.5,698.0 L268.0,698.0 L268.5,698.0 L269.0,698.0 L269.5,698.0 L270.0,698.0 L270.5,698.0 L271.0,698.0 L271.5,698.0" fill="none" stroke="#ff0000" stroke-width="1.6" stroke-linejoin="round" stroke-linecap="round" />
<path d="M55.5,697.9 L56.5,699.5 L57.5,700.9 L58.5,701.4 L59.5,698.2 L60.5,694.9 L61.5,693.8 L62.5,692.1 L63.5,691.0 L64.5,690.3 L65.5,687.8 L66.5,688.2 L67.5,686.9 L68.5,686.3 L69.5,688.8 L70.5,690.4 L71.5,692.8 L72.5,695.8 L73.5,699.2 L74.5,698.5 L75.5,697.1 L76.5,698.2 L77.5,699.3 L78.5,698.9 L79.5,698.1 L80.5,697.5 L81.5,697.2 L82.5,697.6 L83.5,696.1 L84.5,695.4 L85.5,694.9 L86.5,697.3 L87.5,699.9 L88.5,701.5 L89.5,701.7 L90.5,700.3 L91.5,700.0 L92.5,699.7 L93.5,699.6 L94.5,697.8 L95.5,697.4 L96.5,696.0 L97.5,695.8 L98.5,696.6 L99.5,696.4 L100.5,696.6 L101.5,696.0 L102.5,695.3 L103.5,695.7 L104.5,696.5 L105.5,698.1 L106.5,697.9 L107.5,697.5 L108.5,697.6 L109.5,698.7 L110.5,698.7 L111.5,699.7 L112.5,701.8 L113.5,702.3 L114.5,701.6 L115.5,702.2 L116.5,701.9 L117.5,700.1 L118.5,699.9 L119.5,700.6 L120.5,701.0 L121.5,701.8 L122.5,702.4 L123.5,702.6 L124.5,702.0 L125.5,701.9 L126.5,702.4 L127.5,701.0 L128.5,699.7 L129.5,698.5 L130.5,695.8 L131.5,693.9 L132.5,693.3 L133.5,691.5 L134.5,690.5 L135.5,690.2 L136.5,690.9 L137.5,693.3 L138.5,695.4 L139.5,695.5 L140.5,696.6 L141.5,697.2 L142.5,696.5 L143.5,696.0 L144.5,697.4 L145.5,699.1 L146.5,700.8 L147.5,700.0 L148.5,699.4 L149.5,697.9 L150.5,697.6 L151.5,697.1 L152.5,696.5 L153.5,695.9 L154.5,696.3 L155.5,697.9 L156.5,699.9 L157.5,700.4 L158.5,699.1 L159.5,698.0 L160.5,697.8 L161.5,697.0 L162.5,697.1 L163.5,696.0 L164.5,694.5 L165.5,691.8 L166.5,690.9 L167.5,690.0 L168.5,688.3 L169.5,688.5 L170.5,688.0 L171.5,686.5 L172.5,687.8 L173.5,689.0 L174.5,690.8 L175.5,691.5 L176.5,692.2 L177.5,693.2 L178.5,693.3 L179.5,693.4 L180.5,692.6 L181.5,690.9 L182.5,690.2 L183.5,691.7 L184.5,692.6 L185.5,692.5 L186.5,691.7 L187.5,692.6 L188.5,693.1 L189.5,691.9 L190.5,690.9 L191.5,691.9 L192.5,692.6 L193.5,693.9 L194.5,693.2 L195.5,692.4 L196.5,691.0 L197.5,690.0 L198.5,689.2 L199.5,689.1 L200.5,688.9 L201.5,691.1 L202.5,691.3 L203.5,690.7 L204.5,692.2 L205.5,693.5 L206.5,691.8 L207.5,691.2 L208.5,690.8 L209.5,691.1 L210.5,691.5 L211.5,692.3 L212.5,694.8 L213.5,695.4 L214.5,696.1 L215.5,697.1 L216.5,696.0 L217.5,696.3 L218.5,698.8 L219.5,699.6 L220.5,699.9 L221.5,700.1 L222.5,700.5 L223.5,700.3 L224.5,701.0 L225.5,699.7 L226.5,698.2 L227.5,695.6 L228.5,695.7 L229.5,692.3 L230.5,688.7 L231.5,683.1 L232.5,677.8 L233.5,672.9 L234.5,667.8 L235.5,659.2 L236.5,645.3 L237.5,627.9 L238.5,609.9 L239.5,591.7 L240.5,568.1 L241.5,546.1 L242.5,530.1 L243.5,514.3 L244.5,499.2 L245.5,494.3 L246.5,489.2 L247.5,491.1 L248.5,495.0 L249.5,502.2 L250.5,519.2 L251.5,535.0 L252.5,550.7 L253.5,565.7 L254.5,579.1 L255.5,593.1 L256.5,603.6 L257.5,616.7 L258.5,626.5 L259.5,633.4 L260.5,638.3 L261.5,643.9 L262.5,648.0 L263.5,651.1 L264.5,654.2 L265.5,659.4 L266.5,664.7 L267.5,669.9 L268.5,674.8 L269.5,679.7 L270.5,683.1 L271.5,686.3 L272.5,688.0 L273.5,690.5 L274.5,691.8 L275.5,690.5 L276.5,690.1 L277.5,690.5 L278.5,691.8 L279.5,693.3 L280.5,694.9 L281.5,698.6 L282.5,701.1 L283.5,700.6 L284.5,699.4 L285.5,697.5 L286.5,696.8 L287.5,696.1 L288.5,694.3 L289.5,693.5 L290.5,693.3 L291.5,694.4 L292.5,696.1 L293.5,697.1 L294.5,698.1 L295.5,699.3 L296.5,699.0 L297.5,698.3 L298.5,699.0 L299.5,699.7 L300.5,698.6 L301.5,700.4 L302.5,700.3 L303.5,700.0 L304.5,699.3 L305.5,699.3 L306.5,697.9 L307.5,696.1 L308.5,694.9 L309.5,694.8 L310.5,694.6 L311.5,694.0 L312.5,694.0 L313.5,695.4 L314.5,697.0 L315.5,697.7 L316.5,696.1 L317.5,695.3 L318.5,693.0 L319.5,694.8 L320.5,698.7 L321.5,701.6 L322.5,703.4 L323.5,702.0 L324.5,701.3 L325.5,700.2 L326.5,698.9 L327.5,697.3 L328.5,695.3 L329.5,692.9 L330.5,690.5 L331.5,689.7 L332.5,690.0 L333.5,688.6 L334.5,688.5 L335.5,689.7 L336.5,690.2 L337.5,691.9 L338.5,693.1 L339.5,693.8 L340.5,693.7 L341.5,695.7 L342.5,697.6 L343.5,697.3 L344.5,696.9 L345.5,695.6 L346.5,694.2 L347.5,693.2 L348.5,694.7 L349.5,694.1 L350.5,695.1 L351.5,696.8 L352.5,695.3 L353.5,694.8 L354.5,695.8 L355.5,697.4 L356.5,698.9 L357.5,700.7 L358.5,698.3 L359.5,696.9 L360.5,696.4 L361.5,694.8 L362.5,693.2 L363.5,690.9 L364.5,691.6 L365.5,692.6 L366.5,693.9 L367.5,693.5 L368.5,693.5 L369.5,695.5 L370.5,698.1 L371.5,699.2 L372.5,698.9 L373.5,698.6 L374.5,699.8 L375.5,700.9 L376.5,700.2 L377.5,699.7 L378.5,698.6 L379.5,699.0 L380.5,698.8 L381.5,698.8 L382.5,699.4 L383.5,698.9 L384.5,698.2 L385.5,699.2 L386.5,699.5 L387.5,699.7 L388.5,700.5 L389.5,699.9 L390.5,699.0 L391.5,698.8 L392.5,698.2 L393.5,698.1 L394.5,698.5 L395.5,697.6 L396.5,694.7 L397.5,694.3 L398.5,694.9 L399.5,694.1 L400.5,693.9 L401.5,695.1 L402.5,697.3 L403.5,699.2 L404.5,699.9 L405.5,699.1 L406.5,697.9 L407.5,698.3 L408.5,700.2 L409.5,699.7 L410.5,697.1 L411.5,695.6 L412.5,696.3 L413.5,695.6 L414.5,695.3 L415.5,695.4 L416.5,695.2 L417.5,696.2 L418.5,697.3 L419.5,699.0 L420.5,698.8 L421.5,696.8 L422.5,695.7 L423.5,694.9 L424.5,694.4 L425.5,693.3 L426.5,694.0 L427.5,696.7 L428.5,698.2 L429.5,699.1 L430.5,701.7 L431.5,702.4 L432.5,701.4 L433.5,700.2 L434.5,699.3 L435.5,698.2 L436.5,697.9 L437.5,698.9 L438.5,700.5 L439.5,702.0 L440.5,702.2 L441.5,701.4 L442.5,700.2 L443.5,701.0 L444.5,700.0 L445.5,698.3 L446.5,698.5 L447.5,697.1 L448.5,695.8 L449.5,695.2 L450.5,696.6 L451.5,697.9 L452.5,699.6 L453.5,699.8 L454.5,701.3 L455.5,702.1 L456.5,702.9 L457.5,703.7 L458.5,704.5 L459.5,704.1 L460.5,703.7 L461.5,703.1 L462.5,703.0 L463.5,702.4 L464.5,701.4 L465.5,700.7 L466.5,699.9 L467.5,698.1 L468.5,696.1 L469.5,696.4 L470.5,698.4 L471.5,699.5 L472.5,700.1 L473.5,700.4 L474.5,703.3 L475.5,704.0 L476.5,704.7 L477.5,704.0 L478.5,704.9 L479.5,705.1 L480.5,704.4 L481.5,704.5 L482.5,706.2 L483.5,704.8 L484.5,703.1 L485.5,703.0 L486.5,701.3 L487.5,700.5 L488.5,701.7 L489.5,701.1 L490.5,699.7 L491.5,698.8 L492.5,699.3 L493.5,700.3 L494.5,701.6 L495.5,701.1 L496.5,700.8 L497.5,700.8 L498.5,700.2 L499.5,700.3 L500.5,700.8 L501.5,700.9 L502.5,702.9 L503.5,704.1 L504.5,705.0 L505.5,705.1 L506.5,705.3 L507.5,703.9 L508.5,701.9 L509.5,702.7 L510.5,703.4 L511.5,701.5 L512.5,702.0 L513.5,701.8 L514.5,701.5 L515.5,701.3 L516.5,698.1 L517.5,696.8 L518.5,697.0 L519.5,696.1 L520.5,696.2 L521.5,697.9 L522.5,699.3 L523.5,701.2 L524.5,700.7 L525.5,697.9 L526.5,694.8 L527.5,694.1 L528.5,692.7 L529.5,693.6 L530.5,695.4 L531.5,697.1" fill="none" stroke="#ff0000" stroke-width="4" stroke-linejoin="round" stroke-linecap="round" />
<path d="M601.5,256.6 L603.0,256.0 L604.5,255.1 L606.0,255.5 L607.6,256.4 L609.1,255.8 L610.6,255.7 L612.1,255.5 L613.6,255.9 L615.1,255.0 L616.6,254.5 L618.1,253.9 L619.7,254.1 L621.2,254.3 L622.7,254.6 L624.2,253.4 L625.7,254.5 L627.2,253.5 L628.7,253.8 L630.2,254.0 L631.8,253.8 L633.3,253.5 L634.8,253.0 L636.3,252.8 L637.8,252.4 L639.3,253.4 L640.8,252.9 L642.4,251.8 L643.9,250.1 L645.4,249.2 L646.9,246.7 L648.4,245.0 L649.9,244.6 L651.4,244.3 L652.9,245.2 L654.5,245.8 L656.0,246.9 L657.5,248.4 L659.0,249.0 L660.5,249.1 L662.0,248.8 L663.5,248.8 L665.0,249.5 L666.6,249.7 L668.1,249.7 L669.6,249.6 L671.1,249.4 L672.6,249.0 L674.1,248.3 L675.6,249.2 L677.2,249.3 L678.7,249.0 L680.2,249.3 L681.7,248.9 L683.2,248.4 L684.7,248.0 L686.2,248.4 L687.7,247.7 L689.3,248.3 L690.8,248.3 L692.3,248.1 L693.8,248.2 L695.3,248.2 L696.8,248.8 L698.3,248.9 L699.8,248.9 L701.4,249.2 L702.9,248.5 L704.4,249.2 L705.9,249.3 L707.4,248.0 L708.9,248.7 L710.4,249.1 L711.9,248.0 L713.5,248.5 L715.0,248.3 L716.5,248.9 L718.0,249.0 L719.5,249.6 L721.0,249.8 L722.5,249.2 L724.1,248.5 L725.6,247.8 L727.1,247.3 L728.6,248.5 L730.1,248.1 L731.6,248.5 L733.1,248.6 L734.6,249.2 L736.2,249.2 L737.7,248.9 L739.2,248.9 L740.7,248.4 L742.2,248.3 L743.7,247.6 L745.2,247.8 L746.7,247.8 L748.3,247.4 L749.8,247.6 L751.3,247.9 L752.8,248.0 L754.3,247.8 L755.8,247.3 L757.3,247.3 L758.9,247.5 L760.4,247.4 L761.9,247.9 L763.4,247.7 L764.9,248.1 L766.4,247.1 L767.9,247.4 L769.4,247.4 L771.0,247.2 L772.5,247.4 L774.0,247.4 L775.5,246.8 L777.0,247.2 L778.5,247.5 L780.0,246.9 L781.5,246.5 L783.1,242.9 L784.6,237.6 L786.1,225.7 L787.6,203.6 L789.1,171.5 L790.6,131.2 L792.1,88.1 L793.7,54.4 L795.2,41.2 L796.7,53.0 L798.2,81.5 L799.7,115.7 L801.2,148.3 L802.7,174.4 L804.2,194.1 L805.8,208.5 L807.3,217.9 L808.8,224.6 L810.3,227.7 L811.8,229.9 L813.3,232.9 L814.8,233.8 L816.3,235.2 L817.9,236.9 L819.4,237.9 L820.9,238.8 L822.4,239.8 L823.9,240.2 L825.4,240.4 L826.9,240.5 L828.5,240.8 L830.0,241.7 L831.5,241.5 L833.0,242.3 L834.5,242.3 L836.0,242.2 L837.5,242.6 L839.0,242.8 L840.6,242.9 L842.1,243.4 L843.6,243.7 L845.1,243.5 L846.6,243.1 L848.1,243.4 L849.6,242.8 L851.1,243.9 L852.7,245.4 L854.2,244.4 L855.7,243.4 L857.2,244.1 L858.7,244.6 L860.2,244.7 L861.7,243.8 L863.2,243.8 L864.8,244.1 L866.3,244.2 L867.8,243.8 L869.3,244.3 L870.8,245.2 L872.3,244.5 L873.8,244.6 L875.4,244.7 L876.9,244.4 L878.4,245.0 L879.9,246.0 L881.4,244.2 L882.9,244.1 L884.4,244.7 L885.9,244.9 L887.5,244.8 L889.0,245.2 L890.5,244.7 L892.0,244.8 L893.5,244.9 L895.0,245.2 L896.5,244.9 L898.0,244.0 L899.6,243.7 L901.1,244.2 L902.6,244.7 L904.1,245.0 L905.6,244.2 L907.1,244.0 L908.6,245.1 L910.2,244.6 L911.7,245.6 L913.2,245.1 L914.7,244.8 L916.2,245.5 L917.7,245.6 L919.2,244.8 L920.7,244.4 L922.3,244.8 L923.8,244.3 L925.3,244.8 L926.8,244.1 L928.3,244.6 L929.8,244.7 L931.3,244.5 L932.8,244.4 L934.4,243.7 L935.9,243.6 L937.4,244.4 L938.9,245.1 L940.4,245.6 L941.9,245.5 L943.4,245.1 L945.0,245.0 L946.5,245.0 L948.0,244.9 L949.5,244.9 L951.0,245.7 L952.5,245.6 L954.0,244.5 L955.5,244.6 L957.1,245.1 L958.6,244.6 L960.1,245.3 L961.6,245.5 L963.1,245.9 L964.6,244.9 L966.1,244.9 L967.6,244.5 L969.2,244.7 L970.7,245.0 L972.2,244.9 L973.7,244.6 L975.2,245.1 L976.7,245.3 L978.2,245.1 L979.8,244.7 L981.3,244.4 L982.8,244.2 L984.3,244.9 L985.8,244.7 L987.3,245.3 L988.8,245.0 L990.3,244.9 L991.9,244.2" fill="none" stroke="#0000ff" stroke-width="3.8" stroke-linejoin="round" stroke-linecap="round" />
<path d="M601.5,466.7 L603.0,466.8 L604.5,466.2 L606.0,465.6 L607.6,465.3 L609.1,465.7 L610.6,466.1 L612.1,466.1 L613.6,465.2 L615.1,464.7 L616.6,465.3 L618.1,466.1 L619.7,465.7 L621.2,464.6 L622.7,465.1 L624.2,465.9 L625.7,465.4 L627.2,465.6 L628.7,465.3 L630.2,465.1 L631.8,464.9 L633.3,464.3 L634.8,464.3 L636.3,464.4 L637.8,463.8 L639.3,463.7 L640.8,464.2 L642.4,463.2 L643.9,462.3 L645.4,460.9 L646.9,460.0 L648.4,458.3 L649.9,457.6 L651.4,458.9 L652.9,460.1 L654.5,460.8 L656.0,461.8 L657.5,462.3 L659.0,462.2 L660.5,462.8 L662.0,462.3 L663.5,462.9 L665.0,464.4 L666.6,464.2 L668.1,464.8 L669.6,464.5 L671.1,464.7 L672.6,465.6 L674.1,465.1 L675.6,464.8 L677.2,464.6 L678.7,465.4 L680.2,465.1 L681.7,465.8 L683.2,465.8 L684.7,465.9 L686.2,465.1 L687.7,465.1 L689.3,464.5 L690.8,465.0 L692.3,465.0 L693.8,465.0 L695.3,465.5 L696.8,465.1 L698.3,464.5 L699.8,465.1 L701.4,465.1 L702.9,465.0 L704.4,464.8 L705.9,465.2 L707.4,465.2 L708.9,465.0 L710.4,465.1 L711.9,465.3 L713.5,464.8 L715.0,465.7 L716.5,465.9 L718.0,465.6 L719.5,464.7 L721.0,465.1 L722.5,465.6 L724.1,465.5 L725.6,464.9 L727.1,465.5 L728.6,465.5 L730.1,464.8 L731.6,465.3 L733.1,465.0 L734.6,464.8 L736.2,464.9 L737.7,464.6 L739.2,464.0 L740.7,464.8 L742.2,465.4 L743.7,465.5 L745.2,464.8 L746.7,464.6 L748.3,464.3 L749.8,464.5 L751.3,464.6 L752.8,464.6 L754.3,464.4 L755.8,464.1 L757.3,464.1 L758.9,463.6 L760.4,462.8 L761.9,463.4 L763.4,464.1 L764.9,462.8 L766.4,463.2 L767.9,463.6 L769.4,462.9 L771.0,463.0 L772.5,463.3 L774.0,463.4 L775.5,463.3 L777.0,462.6 L778.5,461.9 L780.0,462.1 L781.5,461.0 L783.1,458.9 L784.6,456.0 L786.1,447.3 L787.6,431.9 L789.1,407.6 L790.6,373.6 L792.1,334.4 L793.7,299.2 L795.2,278.0 L796.7,276.4 L798.2,294.7 L799.7,326.9 L801.2,362.8 L802.7,394.8 L804.2,418.3 L805.8,433.2 L807.3,442.7 L808.8,448.2 L810.3,451.2 L811.8,453.9 L813.3,455.2 L814.8,455.8 L816.3,456.7 L817.9,457.3 L819.4,458.9 L820.9,460.0 L822.4,459.2 L823.9,459.9 L825.4,461.1 L826.9,460.7 L828.5,461.6 L830.0,462.8 L831.5,462.6 L833.0,462.4 L834.5,461.9 L836.0,462.9 L837.5,463.0 L839.0,463.1 L840.6,463.4 L842.1,463.6 L843.6,463.1 L845.1,462.7 L846.6,463.1 L848.1,464.0 L849.6,464.3 L851.1,463.8 L852.7,464.1 L854.2,464.4 L855.7,464.5 L857.2,463.0 L858.7,463.4 L860.2,464.2 L861.7,463.5 L863.2,463.5 L864.8,465.0 L866.3,464.6 L867.8,464.1 L869.3,463.7 L870.8,464.0 L872.3,464.1 L873.8,463.8 L875.4,462.8 L876.9,462.8 L878.4,464.1 L879.9,464.2 L881.4,463.0 L882.9,464.3 L884.4,464.5 L885.9,464.2 L887.5,463.8 L889.0,463.6 L890.5,464.0 L892.0,464.6 L893.5,464.1 L895.0,463.9 L896.5,463.4 L898.0,464.3 L899.6,465.2 L901.1,465.0 L902.6,464.1 L904.1,465.1 L905.6,466.0 L907.1,465.5 L908.6,465.0 L910.2,464.7 L911.7,465.3 L913.2,464.7 L914.7,464.5 L916.2,465.0 L917.7,464.7 L919.2,463.6 L920.7,463.4 L922.3,463.7 L923.8,463.9 L925.3,463.6 L926.8,463.9 L928.3,463.9 L929.8,464.0 L931.3,463.4 L932.8,462.8 L934.4,461.6 L935.9,462.2 L937.4,461.4 L938.9,461.0 L940.4,461.2 L941.9,460.8 L943.4,461.7 L945.0,461.1 L946.5,461.1 L948.0,462.6 L949.5,462.3 L951.0,461.4 L952.5,462.1 L954.0,462.7 L955.5,462.7 L957.1,462.7 L958.6,462.3 L960.1,462.6 L961.6,463.2 L963.1,463.5 L964.6,463.3 L966.1,462.8 L967.6,463.2 L969.2,463.4 L970.7,464.0 L972.2,464.6 L973.7,464.4 L975.2,463.8 L976.7,464.0 L978.2,464.7 L979.8,465.0 L981.3,464.3 L982.8,464.4 L984.3,464.5 L985.8,464.4 L987.3,464.2 L988.8,464.0 L990.3,463.8 L991.9,463.7" fill="none" stroke="#008000" stroke-width="3.8" stroke-linejoin="round" stroke-linecap="round" />
<path d="M601.5,698.4 L603.0,698.4 L604.5,699.7 L606.0,698.7 L607.6,697.7 L609.1,697.3 L610.6,697.3 L612.1,697.0 L613.6,697.3 L615.1,697.2 L616.6,697.3 L618.1,697.7 L619.7,697.3 L621.2,696.6 L622.7,696.4 L624.2,695.5 L625.7,694.9 L627.2,694.6 L628.7,694.9 L630.2,694.4 L631.8,694.9 L633.3,694.6 L634.8,693.8 L636.3,693.4 L637.8,693.4 L639.3,692.7 L640.8,691.2 L642.4,690.5 L643.9,689.1 L645.4,688.6 L646.9,688.0 L648.4,687.3 L649.9,686.5 L651.4,686.1 L652.9,686.7 L654.5,689.0 L656.0,690.5 L657.5,691.9 L659.0,692.8 L660.5,694.3 L662.0,695.5 L663.5,695.5 L665.0,697.3 L666.6,698.1 L668.1,698.1 L669.6,698.0 L671.1,699.0 L672.6,699.3 L674.1,700.0 L675.6,700.7 L677.2,700.0 L678.7,699.9 L680.2,700.6 L681.7,701.0 L683.2,701.8 L684.7,701.8 L686.2,701.3 L687.7,700.8 L689.3,701.1 L690.8,700.8 L692.3,700.6 L693.8,700.8 L695.3,700.6 L696.8,700.5 L698.3,701.4 L699.8,701.1 L701.4,701.8 L702.9,701.1 L704.4,701.0 L705.9,701.4 L707.4,701.6 L708.9,701.3 L710.4,701.3 L711.9,701.2 L713.5,701.4 L715.0,701.0 L716.5,701.5 L718.0,701.4 L719.5,701.1 L721.0,700.7 L722.5,701.6 L724.1,701.3 L725.6,700.6 L727.1,701.3 L728.6,701.6 L730.1,701.0 L731.6,701.0 L733.1,700.7 L734.6,701.3 L736.2,700.9 L737.7,700.5 L739.2,700.5 L740.7,701.1 L742.2,700.5 L743.7,701.3 L745.2,701.8 L746.7,701.4 L748.3,700.9 L749.8,700.9 L751.3,700.6 L752.8,700.4 L754.3,700.5 L755.8,700.6 L757.3,700.1 L758.9,701.5 L760.4,701.6 L761.9,700.9 L763.4,701.1 L764.9,701.4 L766.4,700.5 L767.9,700.2 L769.4,700.2 L771.0,698.4 L772.5,697.2 L774.0,696.6 L775.5,696.3 L777.0,695.2 L778.5,694.2 L780.0,692.2 L781.5,690.4 L783.1,687.8 L784.6,685.3 L786.1,681.8 L787.6,678.2 L789.1,674.1 L790.6,669.8 L792.1,661.9 L793.7,647.8 L795.2,622.4 L796.7,568.9 L798.2,500.7 L799.7,537.4 L801.2,604.4 L802.7,639.0 L804.2,656.2 L805.8,666.2 L807.3,671.7 L808.8,676.7 L810.3,680.3 L811.8,683.6 L813.3,686.1 L814.8,688.9 L816.3,691.0 L817.9,692.9 L819.4,694.7 L820.9,696.0 L822.4,696.8 L823.9,697.7 L825.4,698.3 L826.9,697.8 L828.5,699.3 L830.0,699.4 L831.5,698.7 L833.0,699.8 L834.5,699.6 L836.0,699.7 L837.5,700.4 L839.0,701.1 L840.6,701.2 L842.1,700.5 L843.6,700.4 L845.1,701.3 L846.6,700.7 L848.1,700.6 L849.6,700.1 L851.1,700.4 L852.7,700.8 L854.2,700.7 L855.7,700.3 L857.2,699.5 L858.7,698.8 L860.2,699.9 L861.7,700.2 L863.2,700.0 L864.8,700.1 L866.3,699.9 L867.8,700.0 L869.3,700.3 L870.8,700.5 L872.3,700.1 L873.8,699.7 L875.4,699.8 L876.9,699.3 L878.4,699.5 L879.9,699.8 L881.4,699.4 L882.9,700.2 L884.4,699.4 L885.9,699.0 L887.5,699.9 L889.0,699.9 L890.5,699.3 L892.0,699.1 L893.5,699.5 L895.0,699.6 L896.5,699.4 L898.0,699.7 L899.6,700.4 L901.1,700.1 L902.6,700.0 L904.1,700.5 L905.6,699.9 L907.1,700.1 L908.6,699.8 L910.2,700.5 L911.7,700.6 L913.2,700.5 L914.7,699.3 L916.2,699.0 L917.7,698.9 L919.2,698.9 L920.7,698.8 L922.3,698.7 L923.8,699.2 L925.3,698.1 L926.8,697.7 L928.3,697.3 L929.8,696.9 L931.3,695.1 L932.8,694.7 L934.4,694.5 L935.9,693.0 L937.4,692.4 L938.9,692.3 L940.4,691.7 L941.9,691.5 L943.4,691.7 L945.0,690.8 L946.5,690.1 L948.0,690.2 L949.5,690.7 L951.0,691.5 L952.5,692.0 L954.0,692.3 L955.5,692.7 L957.1,694.0 L958.6,694.7 L960.1,694.4 L961.6,695.2 L963.1,696.0 L964.6,696.7 L966.1,696.9 L967.6,696.3 L969.2,696.7 L970.7,697.6 L972.2,698.0 L973.7,697.0 L975.2,696.9 L976.7,697.2 L978.2,697.8 L979.8,699.0 L981.3,698.9 L982.8,698.2 L984.3,698.3 L985.8,698.3 L987.3,698.7 L988.8,698.8 L990.3,698.8 L991.9,699.6" fill="none" stroke="#ff0000" stroke-width="3.8" stroke-linejoin="round" stroke-linecap="round" />
<line x1="797" y1="22.3" x2="797" y2="708" stroke="#000" stroke-width="3" stroke-linecap="round" stroke-dasharray="0.8 13.2"/>
<line x1="888.6" y1="12.1" x2="888.6" y2="708" stroke="#000" stroke-width="3" stroke-linecap="round" stroke-dasharray="0.8 13.2"/>
<rect x="54.40" y="6.70" width="478.40" height="701.30" fill="none" stroke="#000" stroke-width="3.4"/>
<rect x="600.00" y="8.70" width="393.30" height="700.50" fill="none" stroke="#000" stroke-width="3.4"/>
<line x1="150.08" y1="6.70" x2="150.08" y2="21.00" stroke="#000" stroke-width="3.0"/>
<line x1="245.76" y1="6.70" x2="245.76" y2="21.00" stroke="#000" stroke-width="3.0"/>
<line x1="341.44" y1="6.70" x2="341.44" y2="21.00" stroke="#000" stroke-width="3.0"/>
<line x1="437.12" y1="6.70" x2="437.12" y2="21.00" stroke="#000" stroke-width="3.0"/>
<line x1="102.24" y1="6.70" x2="102.24" y2="15.00" stroke="#000" stroke-width="3.0"/>
<line x1="197.92" y1="6.70" x2="197.92" y2="15.00" stroke="#000" stroke-width="3.0"/>
<line x1="293.60" y1="6.70" x2="293.60" y2="15.00" stroke="#000" stroke-width="3.0"/>
<line x1="389.28" y1="6.70" x2="389.28" y2="15.00" stroke="#000" stroke-width="3.0"/>
<line x1="484.96" y1="6.70" x2="484.96" y2="15.00" stroke="#000" stroke-width="3.0"/>
<line x1="54.40" y1="708.00" x2="54.40" y2="722.50" stroke="#000" stroke-width="3.0"/>
<line x1="245.50" y1="708.00" x2="245.50" y2="722.50" stroke="#000" stroke-width="3.0"/>
<line x1="437.00" y1="708.00" x2="437.00" y2="722.50" stroke="#000" stroke-width="3.0"/>
<line x1="151.00" y1="708.00" x2="151.00" y2="716.60" stroke="#000" stroke-width="3.0"/>
<line x1="342.00" y1="708.00" x2="342.00" y2="716.60" stroke="#000" stroke-width="3.0"/>
<line x1="532.80" y1="708.00" x2="532.80" y2="716.60" stroke="#000" stroke-width="3.0"/>
<line x1="660.51" y1="8.70" x2="660.51" y2="22.00" stroke="#000" stroke-width="3.0"/>
<line x1="660.51" y1="709.20" x2="660.51" y2="723.80" stroke="#000" stroke-width="3.0"/>
<line x1="736.14" y1="8.70" x2="736.14" y2="22.00" stroke="#000" stroke-width="3.0"/>
<line x1="736.14" y1="709.20" x2="736.14" y2="723.80" stroke="#000" stroke-width="3.0"/>
<line x1="811.78" y1="8.70" x2="811.78" y2="22.00" stroke="#000" stroke-width="3.0"/>
<line x1="811.78" y1="709.20" x2="811.78" y2="723.80" stroke="#000" stroke-width="3.0"/>
<line x1="887.41" y1="8.70" x2="887.41" y2="22.00" stroke="#000" stroke-width="3.0"/>
<line x1="887.41" y1="709.20" x2="887.41" y2="723.80" stroke="#000" stroke-width="3.0"/>
<line x1="963.05" y1="8.70" x2="963.05" y2="22.00" stroke="#000" stroke-width="3.0"/>
<line x1="963.05" y1="709.20" x2="963.05" y2="723.80" stroke="#000" stroke-width="3.0"/>
<line x1="622.69" y1="8.70" x2="622.69" y2="15.50" stroke="#000" stroke-width="3.0"/>
<line x1="622.69" y1="709.20" x2="622.69" y2="716.80" stroke="#000" stroke-width="3.0"/>
<line x1="698.33" y1="8.70" x2="698.33" y2="15.50" stroke="#000" stroke-width="3.0"/>
<line x1="698.33" y1="709.20" x2="698.33" y2="716.80" stroke="#000" stroke-width="3.0"/>
<line x1="773.96" y1="8.70" x2="773.96" y2="15.50" stroke="#000" stroke-width="3.0"/>
<line x1="773.96" y1="709.20" x2="773.96" y2="716.80" stroke="#000" stroke-width="3.0"/>
<line x1="849.59" y1="8.70" x2="849.59" y2="15.50" stroke="#000" stroke-width="3.0"/>
<line x1="849.59" y1="709.20" x2="849.59" y2="716.80" stroke="#000" stroke-width="3.0"/>
<line x1="925.23" y1="8.70" x2="925.23" y2="15.50" stroke="#000" stroke-width="3.0"/>
<line x1="925.23" y1="709.20" x2="925.23" y2="716.80" stroke="#000" stroke-width="3.0"/>
<text font-family="Liberation Serif" font-size="36.50" text-anchor="middle" transform="translate(54.40 757.00) scale(1.0000 1)">-70</text>
<text font-family="Liberation Serif" font-size="36.50" text-anchor="middle" transform="translate(245.76 757.00) scale(1.0000 1)">-90</text>
<text font-family="Liberation Serif" font-size="36.50" text-anchor="middle" transform="translate(437.12 757.00) scale(1.0000 1)">-110</text>
<text font-family="Liberation Serif" font-size="36.50" text-anchor="middle" transform="translate(661.01 758.00) scale(0.9650 1)">150</text>
<text font-family="Liberation Serif" font-size="36.50" text-anchor="middle" transform="translate(737.64 758.00) scale(0.9700 1)">100</text>
<text font-family="Liberation Serif" font-size="36.50" text-anchor="middle" transform="translate(811.78 758.00) scale(1.0400 1)">50</text>
<text font-family="Liberation Serif" font-size="36.50" text-anchor="middle" transform="translate(887.61 758.00) scale(1.0300 1)">0</text>
<text font-family="Liberation Serif" font-size="36.50" text-anchor="middle" transform="translate(962.75 758.00) scale(0.9600 1)">-50</text>
<text font-family="Liberation Serif" font-size="45.00" text-anchor="middle" transform="translate(285.20 804.50) scale(0.9055 1)">Chemical shift (ppm)</text>
<text font-family="Liberation Serif" font-size="45.00" text-anchor="middle" transform="translate(797.00 810.50) scale(0.9100 1)">Chemical shift (ppm)</text>
<text font-family="Liberation Serif" font-size="44.50" text-anchor="middle" transform="translate(35.60 346.60) rotate(-90) scale(0.9455 1)">Intensity (a.u.)</text>
<text font-family="Liberation Serif" font-size="44.50" text-anchor="middle" transform="translate(580.30 354.10) rotate(-90) scale(0.9506 1)">Intensity (a.u.)</text>
<text font-family="Liberation Serif" font-size="39.00" font-weight="bold" text-anchor="middle" transform="translate(453.20 104.30) scale(1.0000 1)">(A)</text>
<text font-family="Liberation Serif" font-size="38.50" font-weight="bold" text-anchor="middle" transform="translate(670.70 108.80) scale(1.0000 1)">(B)</text>
<text font-family="Liberation Serif" font-size="25.00" font-weight="bold" text-anchor="middle" transform="translate(192.90 160.50) scale(1.1100 1)">(v)</text>
<text font-family="Liberation Serif" font-size="25.00" font-weight="bold" text-anchor="middle" transform="translate(237.90 64.50) scale(1.1100 1)">(iv)</text>
<text font-family="Liberation Serif" font-size="25.00" font-weight="bold" text-anchor="middle" transform="translate(319.90 52.60) scale(1.1100 1)">(iii)</text>
<text font-family="Liberation Serif" font-size="25.00" font-weight="bold" text-anchor="middle" transform="translate(330.50 124.00) scale(1.1100 1)">(ii)</text>
<text font-family="Liberation Serif" font-size="25.00" font-weight="bold" text-anchor="middle" transform="translate(392.70 191.20) scale(1.1100 1)">(i)</text>
<text font-family="Liberation Serif" font-size="25.00" font-weight="bold" text-anchor="middle" transform="translate(282.90 515.50) scale(1.1100 1)">(v)</text>
<text font-family="Liberation Serif" font-size="31.50" text-anchor="middle" transform="translate(492.80 239.60) scale(1.0700 1)">(a)</text>
<text font-family="Liberation Serif" font-size="31.50" text-anchor="middle" transform="translate(494.10 441.60) scale(1.0700 1)">(b)</text>
<text font-family="Liberation Serif" font-size="31.50" text-anchor="middle" transform="translate(490.80 656.60) scale(1.0700 1)">(c)</text>
<text font-family="Liberation Serif" font-size="31.50" text-anchor="middle" transform="translate(942.00 215.60) scale(1.0700 1)">(a)</text>
<text font-family="Liberation Serif" font-size="31.50" text-anchor="middle" transform="translate(950.80 441.00) scale(1.0700 1)">(b)</text>
<text font-family="Liberation Serif" font-size="31.50" text-anchor="middle" transform="translate(948.80 648.60) scale(1.0700 1)">(c)</text>
<text font-family="Liberation Serif" font-size="33" font-weight="bold" x="816" y="105.7">Al<tspan font-size="20" dy="12">T</tspan></text>
<text font-family="Liberation Serif" font-size="33" font-weight="bold" x="902.8" y="106.9">Al<tspan font-size="20" dy="12.8">O</tspan></text>
</svg>
</body></html>
